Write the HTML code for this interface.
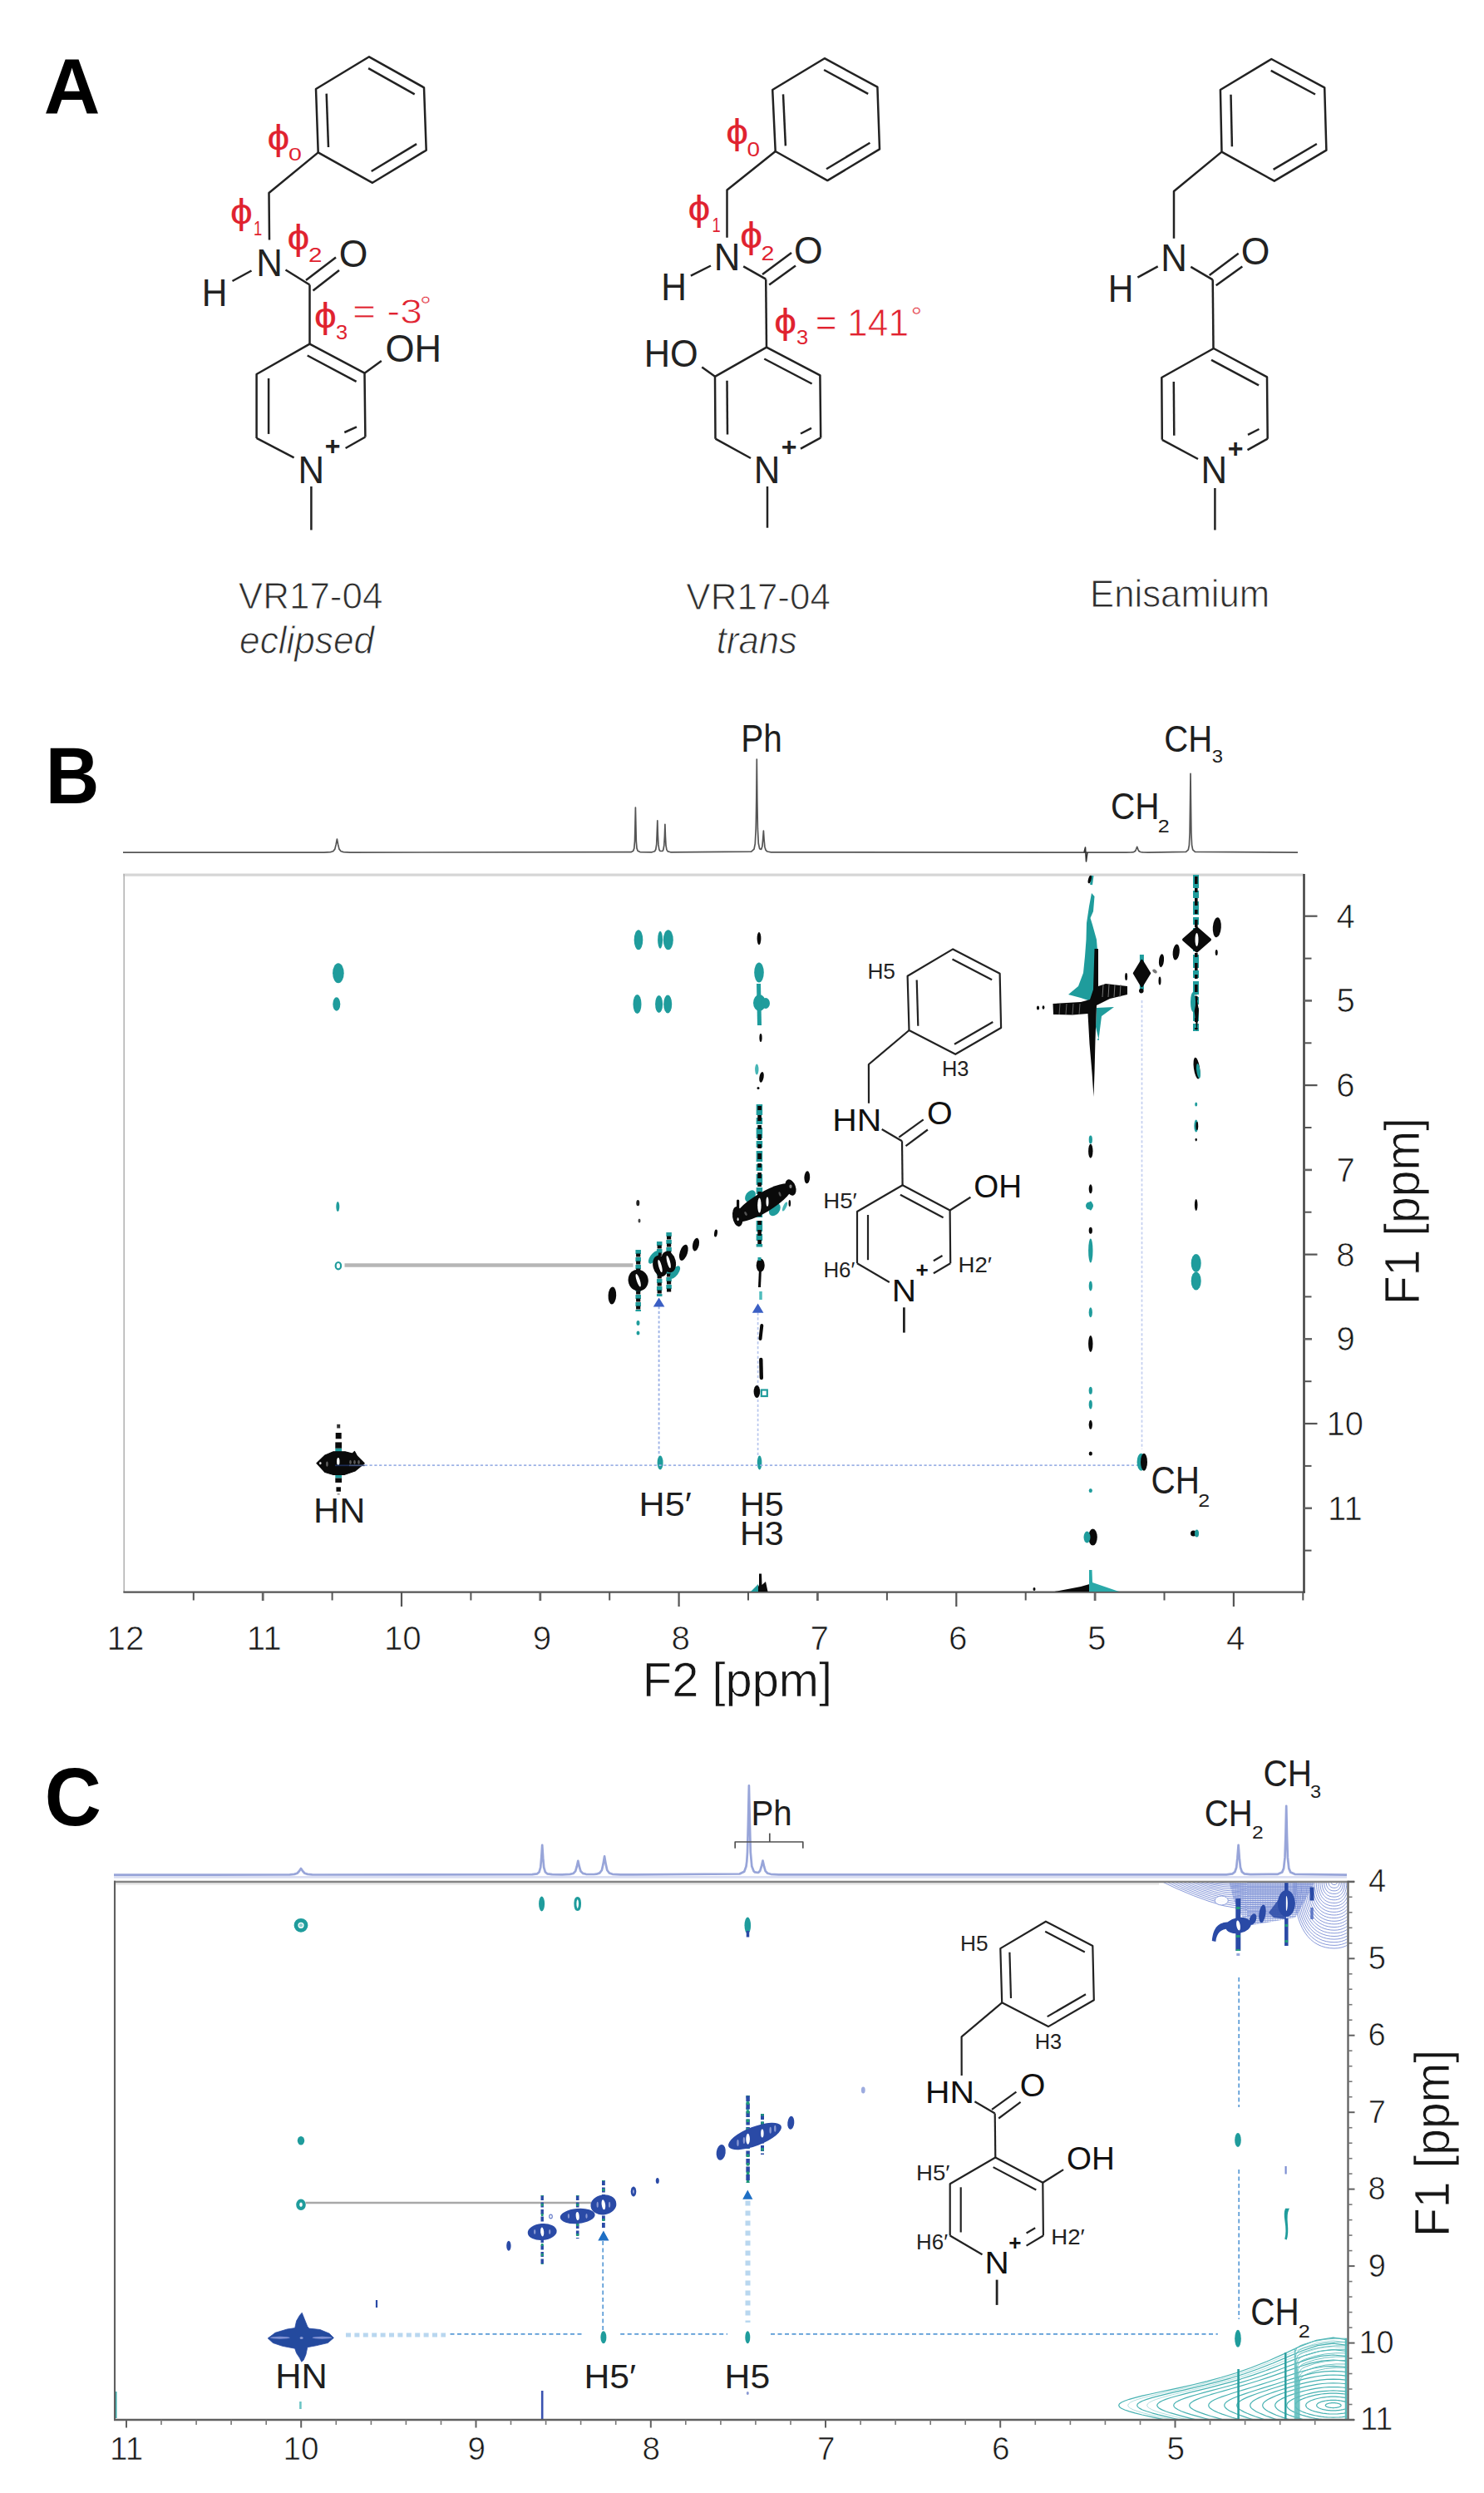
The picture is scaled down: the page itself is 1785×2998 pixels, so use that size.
<!DOCTYPE html>
<html lang="en"><head><meta charset="utf-8"><title>Figure</title>
<style>html,body{margin:0;padding:0;background:#fff;overflow:hidden}svg{display:block}text{font-family:"Liberation Sans", sans-serif}</style>
</head><body>
<svg width="1785" height="2998" viewBox="0 0 1785 2998">
<rect width="1785" height="2998" fill="#fff"/>
<g font-family='"Liberation Sans", sans-serif'>
<path d="M444 68.3 L510 105.3 L512.7 180.7 L448 219.8 L382.7 183.4 L380 107 Z" fill="none" stroke="#222" stroke-width="2.5" stroke-linejoin="round" />
<line x1="443.1" y1="82.1" x2="498.7" y2="113.3" stroke="#222" stroke-width="2.5" />
<line x1="501.1" y1="173.1" x2="446.7" y2="206" stroke="#222" stroke-width="2.5" />
<line x1="395" y1="177" x2="392.7" y2="112.6" stroke="#222" stroke-width="2.5" />
<path d="M382.7 183.4 L323.5 232 L324 288.5" fill="none" stroke="#222" stroke-width="2.5" stroke-linejoin="round" />
<line x1="279.5" y1="338" x2="302.5" y2="325.5" stroke="#222" stroke-width="2.5" />
<line x1="343.5" y1="324.5" x2="372.5" y2="342.5" stroke="#222" stroke-width="2.5" />
<line x1="368" y1="337" x2="404" y2="309.5" stroke="#222" stroke-width="2.5" />
<line x1="376.5" y1="349.5" x2="408" y2="325" stroke="#222" stroke-width="2.5" />
<line x1="372.5" y1="342.5" x2="372.5" y2="414" stroke="#222" stroke-width="2.5" />
<path d="M308.6 526.9 L308.6 450 L372.5 413.7 L438.5 448.7 L439.4 525.5" fill="none" stroke="#222" stroke-width="2.5" stroke-linejoin="round" />
<line x1="369.7" y1="427.5" x2="428.6" y2="458.8" stroke="#222" stroke-width="2.5" />
<line x1="323.1" y1="521.9" x2="323.1" y2="455" stroke="#222" stroke-width="2.5" />
<line x1="439.4" y1="525.5" x2="415.6" y2="539" stroke="#222" stroke-width="2.5" />
<line x1="414.3" y1="520" x2="429" y2="513.4" stroke="#222" stroke-width="2.5" />
<line x1="308.6" y1="526.9" x2="353.6" y2="550.4" stroke="#222" stroke-width="2.5" />
<line x1="438.5" y1="448.7" x2="458.8" y2="434" stroke="#222" stroke-width="2.5" />
<line x1="374.4" y1="585" x2="374.4" y2="637.4" stroke="#222" stroke-width="2.5" />
<path d="M991.8 70.2 L1055.4 104.7 L1058 179.4 L995.3 217.1 L932.7 182 L929.2 108 Z" fill="none" stroke="#222" stroke-width="2.5" stroke-linejoin="round" />
<line x1="991.1" y1="84" x2="1044.2" y2="112.8" stroke="#222" stroke-width="2.5" />
<line x1="1046.4" y1="171.8" x2="994" y2="203.3" stroke="#222" stroke-width="2.5" />
<line x1="944.9" y1="175.4" x2="942" y2="113.4" stroke="#222" stroke-width="2.5" />
<path d="M932.7 182 L874.5 228.4 L874.5 285.8" fill="none" stroke="#222" stroke-width="2.5" stroke-linejoin="round" />
<line x1="830.9" y1="331.7" x2="855" y2="319.5" stroke="#222" stroke-width="2.5" />
<line x1="894.2" y1="320.3" x2="921.2" y2="335.7" stroke="#222" stroke-width="2.5" />
<line x1="917" y1="330" x2="952" y2="304" stroke="#222" stroke-width="2.5" />
<line x1="925.2" y1="342.5" x2="957" y2="319.5" stroke="#222" stroke-width="2.5" />
<line x1="921.2" y1="335.7" x2="922" y2="418" stroke="#222" stroke-width="2.5" />
<path d="M860.5 527.7 L860 452.8 L922 417.7 L986.4 451.4 L987.2 526.4" fill="none" stroke="#222" stroke-width="2.5" stroke-linejoin="round" />
<line x1="919.3" y1="431.5" x2="976.6" y2="461.5" stroke="#222" stroke-width="2.5" />
<line x1="875" y1="522.6" x2="874.5" y2="457.7" stroke="#222" stroke-width="2.5" />
<line x1="987.2" y1="526.4" x2="963" y2="539.6" stroke="#222" stroke-width="2.5" />
<line x1="963" y1="521.5" x2="976" y2="514.8" stroke="#222" stroke-width="2.5" />
<line x1="860.5" y1="527.7" x2="903" y2="551" stroke="#222" stroke-width="2.5" />
<line x1="860" y1="452.8" x2="844.3" y2="441.5" stroke="#222" stroke-width="2.5" />
<line x1="923" y1="585" x2="923" y2="634.7" stroke="#222" stroke-width="2.5" />
<path d="M1529.3 71 L1593.2 105.3 L1595.4 180.7 L1532.8 217.7 L1469.5 182.6 L1467.9 108 Z" fill="none" stroke="#222" stroke-width="2.5" stroke-linejoin="round" />
<line x1="1528.7" y1="84.9" x2="1582" y2="113.5" stroke="#222" stroke-width="2.5" />
<line x1="1583.9" y1="173" x2="1531.6" y2="203.9" stroke="#222" stroke-width="2.5" />
<line x1="1481.9" y1="176.3" x2="1480.5" y2="113.7" stroke="#222" stroke-width="2.5" />
<path d="M1469.5 182.6 L1412 230 L1412 286.7" fill="none" stroke="#222" stroke-width="2.5" stroke-linejoin="round" />
<line x1="1368.4" y1="333.6" x2="1392.7" y2="320.4" stroke="#222" stroke-width="2.5" />
<line x1="1432.3" y1="320.9" x2="1458.7" y2="336.3" stroke="#222" stroke-width="2.5" />
<line x1="1454.7" y1="330.9" x2="1489.7" y2="304.7" stroke="#222" stroke-width="2.5" />
<line x1="1462.7" y1="343.3" x2="1494.3" y2="320.4" stroke="#222" stroke-width="2.5" />
<line x1="1458.7" y1="336.3" x2="1459.5" y2="419" stroke="#222" stroke-width="2.5" />
<path d="M1397.8 528.8 L1397.3 454 L1459.8 419 L1524 453.3 L1524.7 527.7" fill="none" stroke="#222" stroke-width="2.5" stroke-linejoin="round" />
<line x1="1457" y1="432.8" x2="1514.1" y2="463.3" stroke="#222" stroke-width="2.5" />
<line x1="1412.3" y1="523.7" x2="1411.8" y2="458.9" stroke="#222" stroke-width="2.5" />
<line x1="1524.7" y1="527.7" x2="1500.5" y2="541.2" stroke="#222" stroke-width="2.5" />
<line x1="1501" y1="522.9" x2="1514.5" y2="516" stroke="#222" stroke-width="2.5" />
<line x1="1397.8" y1="528.8" x2="1441" y2="552" stroke="#222" stroke-width="2.5" />
<line x1="1461.4" y1="587" x2="1461.4" y2="637.4" stroke="#222" stroke-width="2.5" />
<text transform="translate(52.8 137.3) scale(0.991 1)" font-size="94.6" fill="#000" font-weight="bold" >A</text>
<text transform="translate(308.2 331.6) scale(0.935 1)" font-size="46.8" fill="#222" >N</text>
<text transform="translate(242.7 368.1) scale(0.908 1)" font-size="46.8" fill="#222" >H</text>
<text transform="translate(407.7 321) scale(0.951 1)" font-size="46.8" fill="#222" >O</text>
<text transform="translate(463.5 435.3) scale(0.985 1)" font-size="45.8" fill="#222" >OH</text>
<text transform="translate(358.6 580.6) scale(0.935 1)" font-size="46.8" fill="#222" >N</text>
<text transform="translate(390.7 547) scale(0.3208 0.3176)" font-size="100" fill="#222" font-weight="bold" >+</text>
<text transform="translate(286.8 731.8) scale(0.976 1)" font-size="45.1" fill="#2e2e2e" stroke="#fff" stroke-width="0.9" >VR17-04</text>
<text transform="translate(288.1 786) scale(0.964 1)" font-size="45.8" fill="#2e2e2e" font-style="italic" stroke="#fff" stroke-width="0.9" >eclipsed</text>
<text transform="translate(858.8 324.9) scale(0.935 1)" font-size="46.8" fill="#222" >N</text>
<text transform="translate(795.3 361.1) scale(0.908 1)" font-size="46.8" fill="#222" >H</text>
<text transform="translate(955.1 317) scale(0.951 1)" font-size="46.8" fill="#222" >O</text>
<text transform="translate(774.8 440.6) scale(0.945 1)" font-size="45.8" fill="#222" >HO</text>
<text transform="translate(906.8 580.5) scale(0.935 1)" font-size="46.8" fill="#222" >N</text>
<text transform="translate(939.7 547.5) scale(0.3208 0.3176)" font-size="100" fill="#222" font-weight="bold" >+</text>
<text transform="translate(825.3 732.6) scale(0.976 1)" font-size="45.1" fill="#2e2e2e" stroke="#fff" stroke-width="0.9" >VR17-04</text>
<text transform="translate(861.8 786) scale(0.953 1)" font-size="45.8" fill="#2e2e2e" font-style="italic" stroke="#fff" stroke-width="0.9" >trans</text>
<text transform="translate(1396.2 326.1) scale(0.935 1)" font-size="46.8" fill="#222" >N</text>
<text transform="translate(1332.7 362.6) scale(0.908 1)" font-size="46.8" fill="#222" >H</text>
<text transform="translate(1492.7 317.5) scale(0.951 1)" font-size="46.8" fill="#222" >O</text>
<text transform="translate(1444.5 581.3) scale(0.935 1)" font-size="46.8" fill="#222" >N</text>
<text transform="translate(1476.7 550.1) scale(0.3208 0.3176)" font-size="100" fill="#222" font-weight="bold" >+</text>
<text transform="translate(1311 729.9) scale(0.941 1)" font-size="46.5" fill="#2e2e2e" stroke="#fff" stroke-width="0.9" >Enisamium</text>
<text transform="translate(321.4 180) scale(0.4792 0.4182)" font-size="100" fill="#e0222f" stroke="#e0222f" stroke-width="0.5">&#981;</text>
<text transform="translate(346.9 192.7) scale(0.2854 0.2282)" font-size="100" fill="#e0222f" >0</text>
<text transform="translate(276.9 269) scale(0.4792 0.4182)" font-size="100" fill="#e0222f" stroke="#e0222f" stroke-width="0.5">&#981;</text>
<text transform="translate(305.1 283) scale(0.1839 0.2319)" font-size="100" fill="#e0222f" >1</text>
<text transform="translate(345.6 300) scale(0.4792 0.4182)" font-size="100" fill="#e0222f" stroke="#e0222f" stroke-width="0.5">&#981;</text>
<text transform="translate(371 315) scale(0.2967 0.2357)" font-size="100" fill="#e0222f" >2</text>
<text transform="translate(378 394.2) scale(0.4792 0.4171)" font-size="100" fill="#e0222f" stroke="#e0222f" stroke-width="0.5">&#981;</text>
<text transform="translate(403.9 408.1) scale(0.2547 0.2366)" font-size="100" fill="#e0222f" >3</text>
<text transform="translate(424 389) scale(1.138 1)" font-size="42.2" fill="#e0222f" stroke="#fff" stroke-width="0.8" >= -3</text>
<text transform="translate(504.9 378) scale(0.3464 0.3214)" font-size="100" fill="#e0222f" stroke="#fff" stroke-width="1.5" >&#176;</text>
<text transform="translate(873.3 172.9) scale(0.4792 0.4321)" font-size="100" fill="#e0222f" stroke="#e0222f" stroke-width="0.5">&#981;</text>
<text transform="translate(898.5 188.3) scale(0.2792 0.2394)" font-size="100" fill="#e0222f" >0</text>
<text transform="translate(827.6 264.6) scale(0.4792 0.4321)" font-size="100" fill="#e0222f" stroke="#e0222f" stroke-width="0.5">&#981;</text>
<text transform="translate(856.6 279) scale(0.1839 0.2319)" font-size="100" fill="#e0222f" >1</text>
<text transform="translate(890.2 298) scale(0.4792 0.4471)" font-size="100" fill="#e0222f" stroke="#e0222f" stroke-width="0.5">&#981;</text>
<text transform="translate(915.6 312.5) scale(0.2857 0.2357)" font-size="100" fill="#e0222f" >2</text>
<text transform="translate(931.2 400.7) scale(0.4792 0.4321)" font-size="100" fill="#e0222f" stroke="#e0222f" stroke-width="0.5">&#981;</text>
<text transform="translate(957.9 414) scale(0.2547 0.2324)" font-size="100" fill="#e0222f" >3</text>
<text transform="translate(980.8 404.4) scale(0.942 1)" font-size="47.1" fill="#e0222f" stroke="#fff" stroke-width="0.8" >= 141</text>
<text transform="translate(1095.7 391) scale(0.3321 0.3214)" font-size="100" fill="#e0222f" stroke="#fff" stroke-width="1.5" >&#176;</text>
</g>
<g>
<text transform="translate(54.8 966.4) scale(0.936 1)" font-size="95.6" fill="#000" font-weight="bold" >B</text>
<path d="M148 1025.2 L389.8 1025.1 L397.6 1024.6 L400.7 1023.7 L402.8 1021.1 L404.1 1015.9 L405.4 1009 L406.7 1015.9 L408 1021.1 L410.1 1023.7 L413.2 1024.6 L421 1025.1 L759 1024.7 L761.7 1023.2 L762.8 1020.1 L763.5 1011.6 L763.9 994.2 L764.4 971 L764.9 994.2 L765.3 1011.6 L766 1020.1 L767.1 1023.2 L769.8 1024.6 L784.2 1024.8 L787.5 1023.7 L788.8 1021.5 L789.7 1015.5 L790.2 1003.2 L790.8 986.8 L791.3 1003.2 L791.9 1015.4 L792.8 1021.3 L793.3 1022.6 L794.1 1023.4 L796.6 1023.5 L797.4 1022.8 L797.9 1021.7 L798.8 1016.5 L799.4 1005.8 L799.9 991.4 L800.4 1005.8 L801 1016.6 L801.9 1021.9 L803.2 1023.9 L806.5 1024.8 L903.7 1024.1 L907 1021.1 L908.3 1014.6 L909.2 997 L909.4 987.8 L909.8 961.1 L910.3 913.1 L910.8 961 L911.4 996.9 L912.3 1014.3 L913.6 1020.4 L913.9 1020.9 L915.7 1021.3 L916.9 1017.8 L917.6 1009.9 L918.4 999.1 L919.1 1010.1 L919.9 1018.4 L921.1 1022.4 L922.9 1024 L927.4 1024.8 L1354.5 1025.1 L1361.1 1024.9 L1363.7 1024.6 L1365.5 1023.5 L1366.6 1021.3 L1367.7 1018.3 L1368.8 1021.3 L1369.9 1023.5 L1371.7 1024.5 L1374.3 1024.9 L1380.9 1025.1 L1426.6 1024.3 L1429.3 1021.8 L1430.4 1016.3 L1431.1 1001.5 L1431.5 971 L1432 930.3 L1432.5 971 L1432.9 1001.5 L1433.6 1016.3 L1434.7 1021.8 L1437.4 1024.3 L1561 1025.2" fill="none" stroke="#555" stroke-width="1.7" stroke-linejoin="round" />
<path d="M1304 1025 L1305.5 1019 L1306.5 1036 L1308 1025" fill="none" stroke="#333" stroke-width="1.6" stroke-linejoin="round" />
<text transform="translate(891.2 903.8) scale(0.886 1)" font-size="45.8" fill="#1e1e1e" >Ph</text>
<text transform="translate(1400.3 904) scale(0.889 1)" font-size="45.1" fill="#1e1e1e" >CH</text>
<text transform="translate(1457.7 917.1) scale(0.2379 0.2225)" font-size="100" fill="#1e1e1e" >3</text>
<text transform="translate(1336 985) scale(0.898 1)" font-size="45.1" fill="#1e1e1e" >CH</text>
<text transform="translate(1392.7 1001) scale(0.2505 0.2214)" font-size="100" fill="#1e1e1e" >2</text>
<line x1="148" y1="1052.2" x2="1568.5" y2="1052.2" stroke="#d6d6d6" stroke-width="3.2" />
<line x1="149.2" y1="1051" x2="149.2" y2="1915" stroke="#b4b4b4" stroke-width="1.6" />
<line x1="148.4" y1="1914.7" x2="1569.7" y2="1914.7" stroke="#555" stroke-width="2.2" />
<line x1="1568.5" y1="1051" x2="1568.5" y2="1915.8" stroke="#444" stroke-width="2.6" />
<line x1="1568.5" y1="1101.7" x2="1584.5" y2="1101.7" stroke="#555" stroke-width="2.2" />
<text transform="translate(1607.6 1115.7) scale(1.000 1)" font-size="40.1" fill="#1a1a1a" stroke="#fff" stroke-width="0.7" >4</text>
<line x1="1568.5" y1="1152.6" x2="1577.5" y2="1152.6" stroke="#555" stroke-width="2" />
<line x1="1568.5" y1="1203.4" x2="1578" y2="1203.4" stroke="#666" stroke-width="2.6" />
<text transform="translate(1607.4 1217.4) scale(1.000 1)" font-size="40.1" fill="#1a1a1a" stroke="#fff" stroke-width="0.7" >5</text>
<line x1="1568.5" y1="1254.3" x2="1577.5" y2="1254.3" stroke="#555" stroke-width="2" />
<line x1="1568.5" y1="1305.1" x2="1584.5" y2="1305.1" stroke="#555" stroke-width="2.2" />
<text transform="translate(1607.2 1319.1) scale(1.000 1)" font-size="40.1" fill="#1a1a1a" stroke="#fff" stroke-width="0.7" >6</text>
<line x1="1568.5" y1="1356" x2="1577.5" y2="1356" stroke="#555" stroke-width="2" />
<line x1="1568.5" y1="1406.9" x2="1578" y2="1406.9" stroke="#666" stroke-width="2.6" />
<text transform="translate(1607.4 1420.9) scale(1.000 1)" font-size="40.1" fill="#1a1a1a" stroke="#fff" stroke-width="0.7" >7</text>
<line x1="1568.5" y1="1457.7" x2="1577.5" y2="1457.7" stroke="#555" stroke-width="2" />
<line x1="1568.5" y1="1508.6" x2="1584.5" y2="1508.6" stroke="#555" stroke-width="2.2" />
<text transform="translate(1607.3 1522.6) scale(1.000 1)" font-size="40.1" fill="#1a1a1a" stroke="#fff" stroke-width="0.7" >8</text>
<line x1="1568.5" y1="1559.4" x2="1577.5" y2="1559.4" stroke="#555" stroke-width="2" />
<line x1="1568.5" y1="1610.3" x2="1578" y2="1610.3" stroke="#666" stroke-width="2.6" />
<text transform="translate(1607.4 1624.3) scale(1.000 1)" font-size="40.1" fill="#1a1a1a" stroke="#fff" stroke-width="0.7" >9</text>
<line x1="1568.5" y1="1661.2" x2="1577.5" y2="1661.2" stroke="#555" stroke-width="2" />
<line x1="1568.5" y1="1712" x2="1584.5" y2="1712" stroke="#555" stroke-width="2.2" />
<text transform="translate(1595.4 1726) scale(1.000 1)" font-size="40.1" fill="#1a1a1a" stroke="#fff" stroke-width="0.7" >10</text>
<line x1="1568.5" y1="1762.9" x2="1577.5" y2="1762.9" stroke="#555" stroke-width="2" />
<line x1="1568.5" y1="1813.7" x2="1578" y2="1813.7" stroke="#666" stroke-width="2.6" />
<text transform="translate(1597.1 1827.7) scale(1.000 1)" font-size="40.1" fill="#1a1a1a" stroke="#fff" stroke-width="0.7" >11</text>
<line x1="1568.5" y1="1864.6" x2="1577.5" y2="1864.6" stroke="#555" stroke-width="2" />
<line x1="1483.9" y1="1914.7" x2="1483.9" y2="1932" stroke="#555" stroke-width="2.2" />
<text transform="translate(1475.1 1983.5) scale(1.000 1)" font-size="40.4" fill="#1a1a1a" stroke="#fff" stroke-width="0.7" >4</text>
<line x1="1567.3" y1="1914.7" x2="1567.3" y2="1924.5" stroke="#555" stroke-width="2" />
<line x1="1317.1" y1="1914.7" x2="1317.1" y2="1925" stroke="#666" stroke-width="2.8" />
<text transform="translate(1308.1 1983.5) scale(1.000 1)" font-size="40.4" fill="#1a1a1a" stroke="#fff" stroke-width="0.7" >5</text>
<line x1="1400.5" y1="1914.7" x2="1400.5" y2="1924.5" stroke="#555" stroke-width="2" />
<line x1="1150.3" y1="1914.7" x2="1150.3" y2="1932" stroke="#555" stroke-width="2.2" />
<text transform="translate(1141 1983.5) scale(1.000 1)" font-size="40.4" fill="#1a1a1a" stroke="#fff" stroke-width="0.7" >6</text>
<line x1="1233.7" y1="1914.7" x2="1233.7" y2="1924.5" stroke="#555" stroke-width="2" />
<line x1="983.4" y1="1914.7" x2="983.4" y2="1925" stroke="#666" stroke-width="2.8" />
<text transform="translate(974.4 1983.5) scale(1.000 1)" font-size="40.4" fill="#1a1a1a" stroke="#fff" stroke-width="0.7" >7</text>
<line x1="1066.9" y1="1914.7" x2="1066.9" y2="1924.5" stroke="#555" stroke-width="2" />
<line x1="816.6" y1="1914.7" x2="816.6" y2="1932" stroke="#555" stroke-width="2.2" />
<text transform="translate(807.5 1983.5) scale(1.000 1)" font-size="40.4" fill="#1a1a1a" stroke="#fff" stroke-width="0.7" >8</text>
<line x1="900" y1="1914.7" x2="900" y2="1924.5" stroke="#555" stroke-width="2" />
<line x1="649.8" y1="1914.7" x2="649.8" y2="1925" stroke="#666" stroke-width="2.8" />
<text transform="translate(640.8 1983.5) scale(1.000 1)" font-size="40.4" fill="#1a1a1a" stroke="#fff" stroke-width="0.7" >9</text>
<line x1="733.2" y1="1914.7" x2="733.2" y2="1924.5" stroke="#555" stroke-width="2" />
<line x1="483" y1="1914.7" x2="483" y2="1932" stroke="#555" stroke-width="2.2" />
<text transform="translate(461.9 1983.5) scale(1.000 1)" font-size="40.4" fill="#1a1a1a" stroke="#fff" stroke-width="0.7" >10</text>
<line x1="566.4" y1="1914.7" x2="566.4" y2="1924.5" stroke="#555" stroke-width="2" />
<line x1="316.2" y1="1914.7" x2="316.2" y2="1925" stroke="#666" stroke-width="2.8" />
<text transform="translate(296.8 1983.5) scale(1.000 1)" font-size="40.4" fill="#1a1a1a" stroke="#fff" stroke-width="0.7" >11</text>
<line x1="399.6" y1="1914.7" x2="399.6" y2="1924.5" stroke="#555" stroke-width="2" />
<text transform="translate(128.6 1983.5) scale(1.000 1)" font-size="40.4" fill="#1a1a1a" stroke="#fff" stroke-width="0.7" >12</text>
<line x1="232.8" y1="1914.7" x2="232.8" y2="1924.5" stroke="#555" stroke-width="2" />
<text transform="translate(772.8 2039.6) scale(1.010 1)" font-size="57.3" fill="#161616" stroke="#fff" stroke-width="0.7" >F2 [ppm]</text>
<g transform="translate(1706.5 1564.7) rotate(-90)">
<text transform="translate(-4.6 0) scale(0.958 1)" font-size="59.6" fill="#161616" stroke="#fff" stroke-width="0.7" >F1 [ppm]</text>
</g>
<ellipse cx="406.9" cy="1170.2" rx="6.8" ry="12" fill="#1f9c9c" />
<ellipse cx="404.8" cy="1207.5" rx="4.5" ry="8.3" fill="#1f9c9c" />
<ellipse cx="768" cy="1130.2" rx="5.3" ry="12" fill="#1f9c9c" />
<ellipse cx="794.1" cy="1130.2" rx="3" ry="10.5" fill="#1f9c9c" />
<ellipse cx="803.8" cy="1130.2" rx="6" ry="12" fill="#1f9c9c" />
<ellipse cx="766.5" cy="1207.5" rx="5" ry="11.5" fill="#1f9c9c" />
<ellipse cx="792.6" cy="1207.5" rx="4.5" ry="10.5" fill="#1f9c9c" />
<ellipse cx="803.2" cy="1207.5" rx="5" ry="11" fill="#1f9c9c" />
<ellipse cx="913" cy="1169.6" rx="5.8" ry="12" fill="#1f9c9c" />
<ellipse cx="406.3" cy="1451" rx="2" ry="6" fill="#1f9c9c" />
<ellipse cx="794.1" cy="1759" rx="3.5" ry="8.5" fill="#1f9c9c" />
<ellipse cx="913.6" cy="1759" rx="2.8" ry="8.5" fill="#1f9c9c" />
<ellipse cx="1438.7" cy="1519" rx="6" ry="11" fill="#1f9c9c" />
<ellipse cx="1438.7" cy="1540.4" rx="6" ry="11" fill="#1f9c9c" />
<ellipse cx="767.5" cy="1591" rx="2" ry="3" fill="#1f9c9c" />
<ellipse cx="767.5" cy="1603" rx="2" ry="2.5" fill="#1f9c9c" />
<ellipse cx="1438.7" cy="1328" rx="1.5" ry="2.5" fill="#1f9c9c" />
<ellipse cx="406.9" cy="1522.2" rx="3.2" ry="4.2" fill="#fff" stroke="#1f9c9c" stroke-width="2.2" />
<ellipse cx="913" cy="1128.6" rx="2.4" ry="7.5" fill="#0a0a0a" />
<ellipse cx="913.5" cy="1206" rx="7.5" ry="10" fill="#1f9c9c" />
<ellipse cx="921" cy="1206.5" rx="5" ry="6.5" fill="#1f9c9c" />
<line x1="912.5" y1="1183" x2="913.5" y2="1233" stroke="#1f9c9c" stroke-width="5" />
<ellipse cx="915" cy="1248" rx="1.6" ry="5" fill="#0a0a0a" />
<ellipse cx="910.3" cy="1286" rx="2.2" ry="6.5" fill="#45b5b5" />
<ellipse cx="916" cy="1295.4" rx="2.6" ry="6.5" fill="#0a0a0a" transform="rotate(10 916 1295.4)" />
<ellipse cx="912" cy="1308.5" rx="1.5" ry="1.5" fill="#0a0a0a" />
<line x1="414.5" y1="1521.5" x2="761.5" y2="1521.5" stroke="#b6b6b6" stroke-width="4.6" />
<line x1="438.7" y1="1762.2" x2="1371.4" y2="1762.2" stroke="#9db2e6" stroke-width="1.7" stroke-dasharray="3.2 2.6"/>
<line x1="792.6" y1="1571" x2="792.6" y2="1751" stroke="#9db2e6" stroke-width="1.9" stroke-dasharray="3.2 2.6"/>
<line x1="911.6" y1="1578.5" x2="911.6" y2="1751" stroke="#b7c6ee" stroke-width="1.7" stroke-dasharray="3.2 2.6"/>
<line x1="1373.5" y1="1203" x2="1373.5" y2="1743" stroke="#c3cff0" stroke-width="1.7" stroke-dasharray="3.2 2.6"/>
<path d="M792.6 1560.5 L785.8 1571.5 L799.4 1571.5 Z M911.6 1567.5 L904.8 1578.7 L918.4 1578.7 Z" fill="#3b5fc4"/>
<line x1="407.2" y1="1712.8" x2="407.2" y2="1717.5" stroke="#333" stroke-width="4" />
<line x1="407.2" y1="1723" x2="407.2" y2="1730.3" stroke="#0a0a0a" stroke-width="7" />
<line x1="407.2" y1="1734.4" x2="407.2" y2="1741.8" stroke="#0a0a0a" stroke-width="7.8" />
<line x1="407.2" y1="1741.8" x2="407.2" y2="1746.5" stroke="#1f9c9c" stroke-width="7.8" />
<line x1="407.2" y1="1772.4" x2="407.2" y2="1777.5" stroke="#1f9c9c" stroke-width="7.8" />
<line x1="407.2" y1="1777.5" x2="407.2" y2="1782.9" stroke="#0a0a0a" stroke-width="7.8" />
<line x1="407.2" y1="1788.3" x2="407.2" y2="1793.7" stroke="#0a0a0a" stroke-width="5.5" />
<line x1="407.2" y1="1796" x2="407.2" y2="1797.5" stroke="#888" stroke-width="3" />
<path d="M380.9 1759.7 L391 1750 L401 1745.8 L415 1745.8 L424 1748 L426.5 1745.5 L429.5 1751 L438.2 1759.7 L427 1769 L414 1773.5 L401 1773.5 L391 1770.5 L386 1765 Z" fill="#0a0a0a" stroke="#0a0a0a" stroke-width="1.2" stroke-linejoin="round" />
<ellipse cx="406.8" cy="1757.6" rx="1.7" ry="4.6" fill="#fff" />
<ellipse cx="385.3" cy="1759.6" rx="1.3" ry="1.6" fill="#ddd" />
<ellipse cx="393.4" cy="1760.6" rx="1.2" ry="3.2" fill="#666" />
<ellipse cx="421.5" cy="1758.3" rx="1.3" ry="2.6" fill="#5a5a5a" />
<ellipse cx="426.5" cy="1758.3" rx="1.3" ry="2.6" fill="#5a5a5a" />
<ellipse cx="431.5" cy="1758.3" rx="1.3" ry="2.6" fill="#5a5a5a" />
<line x1="403" y1="1762.3" x2="420" y2="1762.3" stroke="#1c2c55" stroke-width="1.7" />
<line x1="420" y1="1762.3" x2="438.7" y2="1762.3" stroke="#44557f" stroke-width="1.7" />
<line x1="767.7" y1="1503" x2="767.7" y2="1577" stroke="#1f9c9c" stroke-width="6.5" stroke-dasharray="5 4"/>
<line x1="767.7" y1="1503" x2="767.7" y2="1577" stroke="#0a0a0a" stroke-width="5.2" stroke-dasharray="4 5" stroke-dashoffset="4.5"/>
<line x1="793.2" y1="1493" x2="793.2" y2="1559" stroke="#1f9c9c" stroke-width="6.5" stroke-dasharray="5 4"/>
<line x1="793.2" y1="1493" x2="793.2" y2="1559" stroke="#0a0a0a" stroke-width="5.2" stroke-dasharray="4 5" stroke-dashoffset="4.5"/>
<line x1="804.6" y1="1482" x2="804.6" y2="1554" stroke="#1f9c9c" stroke-width="6.5" stroke-dasharray="5 4"/>
<line x1="804.6" y1="1482" x2="804.6" y2="1554" stroke="#0a0a0a" stroke-width="5.2" stroke-dasharray="4 5" stroke-dashoffset="4.5"/>
<ellipse cx="786" cy="1512" rx="4" ry="9" fill="#1f9c9c" transform="rotate(35 786 1512)" />
<ellipse cx="812" cy="1530" rx="4" ry="9" fill="#1f9c9c" transform="rotate(35 812 1530)" />
<ellipse cx="767.7" cy="1539.7" rx="12" ry="13" fill="#0a0a0a" transform="rotate(-18 767.7 1539.7)" />
<ellipse cx="767.7" cy="1539.7" rx="2" ry="8.1" fill="#fff" transform="rotate(-18 767.7 1539.7)" />
<ellipse cx="794" cy="1522.5" rx="8.5" ry="13" fill="#0a0a0a" transform="rotate(-15 794 1522.5)" />
<ellipse cx="794" cy="1522.5" rx="1.8" ry="7.8" fill="#fff" transform="rotate(-15 794 1522.5)" />
<ellipse cx="804.2" cy="1517.5" rx="8.5" ry="13" fill="#0a0a0a" transform="rotate(-15 804.2 1517.5)" />
<ellipse cx="804.2" cy="1517.5" rx="1.8" ry="7.8" fill="#fff" transform="rotate(-15 804.2 1517.5)" />
<ellipse cx="822.3" cy="1506.3" rx="4.6" ry="10" fill="#0a0a0a" transform="rotate(18 822.3 1506.3)" />
<ellipse cx="837" cy="1496.6" rx="3.8" ry="8" fill="#0a0a0a" transform="rotate(12 837 1496.6)" />
<ellipse cx="861" cy="1483" rx="1.9" ry="4.5" fill="#0a0a0a" transform="rotate(8 861 1483)" />
<ellipse cx="736.4" cy="1557.9" rx="4.8" ry="10.5" fill="#0a0a0a" transform="rotate(3 736.4 1557.9)" />
<ellipse cx="767.3" cy="1446.7" rx="2" ry="3.6" fill="#222" />
<ellipse cx="769" cy="1468" rx="1.5" ry="2.6" fill="#444" />
<line x1="913.4" y1="1328" x2="913.4" y2="1499.5" stroke="#1f9c9c" stroke-width="7.5" stroke-dasharray="13 3 8 4"/>
<line x1="913.6" y1="1330" x2="913.6" y2="1499.5" stroke="#0a0a0a" stroke-width="4.6" stroke-dasharray="5 6 7 5"/>
<ellipse cx="902.5" cy="1438.5" rx="5.5" ry="8" fill="#1f9c9c" transform="rotate(35 902.5 1438.5)" />
<ellipse cx="931.8" cy="1454.5" rx="6" ry="8.5" fill="#1f9c9c" transform="rotate(35 931.8 1454.5)" />
<ellipse cx="944" cy="1451" rx="2" ry="6" fill="#49b6b6" transform="rotate(25 944 1451)" />
<ellipse cx="918" cy="1446.3" rx="40" ry="11.8" fill="#0a0a0a" transform="rotate(-31 918 1446.3)" />
<ellipse cx="887.3" cy="1463" rx="6.2" ry="12" fill="#0a0a0a" transform="rotate(-8 887.3 1463)" />
<line x1="887.6" y1="1444" x2="887.6" y2="1462" stroke="#0a0a0a" stroke-width="3.2" stroke-linecap="round"/>
<ellipse cx="951" cy="1428" rx="6" ry="10" fill="#0a0a0a" transform="rotate(-20 951 1428)" />
<ellipse cx="913.4" cy="1449.6" rx="2.2" ry="9" fill="#fff" />
<ellipse cx="923" cy="1445.2" rx="1.5" ry="5.6" fill="#fff" />
<ellipse cx="887.6" cy="1466.2" rx="1.1" ry="2" fill="#ddd" />
<ellipse cx="951" cy="1426.8" rx="1.6" ry="2.2" fill="#888" />
<ellipse cx="897" cy="1459.5" rx="1.3" ry="2.6" fill="#555" transform="rotate(-30 897 1459.5)" />
<ellipse cx="938" cy="1436" rx="1.2" ry="3" fill="#555" transform="rotate(-20 938 1436)" />
<ellipse cx="970.8" cy="1415.8" rx="3.4" ry="7.5" fill="#0a0a0a" transform="rotate(3 970.8 1415.8)" />
<ellipse cx="949.8" cy="1447" rx="1.3" ry="4" fill="#0a0a0a" />
<ellipse cx="914.7" cy="1521.5" rx="5" ry="8" fill="#0a0a0a" />
<line x1="914.5" y1="1525" x2="913.5" y2="1548" stroke="#0a0a0a" stroke-width="3" />
<line x1="913.5" y1="1512" x2="913.5" y2="1516" stroke="#1f9c9c" stroke-width="4" />
<line x1="915" y1="1553" x2="915" y2="1563" stroke="#4fbcbc" stroke-width="3.5" />
<line x1="916.3" y1="1594" x2="914.5" y2="1610" stroke="#0a0a0a" stroke-width="4" stroke-linecap="round"/>
<line x1="915.3" y1="1635" x2="915.8" y2="1657" stroke="#0a0a0a" stroke-width="4.4" stroke-linecap="round"/>
<ellipse cx="910.4" cy="1673.5" rx="3.8" ry="7.5" fill="#0a0a0a" />
<rect x="915.8" y="1671.5" width="7" height="7.5" fill="#fff" stroke="#1f9c9c" stroke-width="2.2"/>
<path d="M913 1892.5 L916 1892.5 L916.5 1906 L921 1902 L923.5 1914 L909 1914 L913 1906 Z" fill="#0a0a0a"/>
<path d="M903 1914 L912 1905 L912 1914 Z" fill="#1f9c9c"/>
<path d="M1313 1074 L1316.5 1078 L1315 1096 L1311.5 1104 L1314 1112 L1319 1130 L1320.5 1150 L1316 1168 L1317 1190 L1312 1204 L1300 1200 L1285 1196 L1297 1186 L1303 1170 L1305 1150 L1306.5 1130 L1307 1110 L1310 1090 Z" fill="#1f9c9c"/>
<line x1="1314" y1="1053" x2="1312.5" y2="1064" stroke="#1f9c9c" stroke-width="3" />
<path d="M1319 1212 L1340 1211 L1325 1222 L1321.5 1250 L1318 1235 Z" fill="#1f9c9c"/>
<path d="M1316.5 1141 L1321 1141 L1321 1186 L1330 1183 L1356 1186 L1356 1196 L1335 1201 L1319 1209 L1317.5 1250 L1316.5 1290 L1315.5 1319 L1313.5 1290 L1310.5 1255 L1308.5 1219 L1290 1220.5 L1267 1220 L1266.5 1207 L1300 1205 L1311 1202 L1315 1190 Z" fill="#0a0a0a"/>
<line x1="1327" y1="1184" x2="1326" y2="1199" stroke="#777" stroke-width="1" />
<line x1="1334" y1="1184" x2="1333" y2="1199" stroke="#777" stroke-width="1" />
<line x1="1341" y1="1184" x2="1340" y2="1199" stroke="#777" stroke-width="1" />
<line x1="1348" y1="1184" x2="1347" y2="1199" stroke="#777" stroke-width="1" />
<line x1="1275" y1="1207" x2="1274" y2="1220" stroke="#666" stroke-width="1" />
<line x1="1283" y1="1207" x2="1282" y2="1220" stroke="#666" stroke-width="1" />
<line x1="1291" y1="1207" x2="1290" y2="1220" stroke="#666" stroke-width="1" />
<line x1="1299" y1="1207" x2="1298" y2="1220" stroke="#666" stroke-width="1" />
<ellipse cx="1248.5" cy="1212" rx="1.6" ry="2.6" fill="#0a0a0a" />
<ellipse cx="1255" cy="1211.5" rx="1.4" ry="2.2" fill="#0a0a0a" />
<ellipse cx="1310.8" cy="1057.5" rx="1.8" ry="5" fill="#0a0a0a" transform="rotate(15 1310.8 1057.5)" />
<ellipse cx="1321" cy="1250" rx="1" ry="1" fill="#1f9c9c" />
<ellipse cx="1311.8" cy="1370.6" rx="2.1" ry="5" fill="#1f9c9c" />
<ellipse cx="1311.8" cy="1384.3" rx="2.7" ry="8.5" fill="#0a0a0a" />
<ellipse cx="1311.8" cy="1429.8" rx="2.1" ry="5.5" fill="#0a0a0a" />
<ellipse cx="1311.8" cy="1450" rx="2.1" ry="5.5" fill="#1f9c9c" />
<ellipse cx="1311.8" cy="1479.8" rx="2.1" ry="4" fill="#0a0a0a" />
<ellipse cx="1311.8" cy="1504" rx="2.7" ry="14.5" fill="#1f9c9c" />
<ellipse cx="1311.8" cy="1546.5" rx="2.1" ry="6" fill="#1f9c9c" />
<ellipse cx="1311.8" cy="1578.3" rx="2.1" ry="6" fill="#1f9c9c" />
<ellipse cx="1311.8" cy="1616" rx="2.7" ry="10" fill="#0a0a0a" />
<ellipse cx="1311.8" cy="1672.3" rx="2.1" ry="4.5" fill="#1f9c9c" />
<ellipse cx="1311.8" cy="1689" rx="2.1" ry="5.5" fill="#1f9c9c" />
<ellipse cx="1311.8" cy="1713.3" rx="2.1" ry="5.5" fill="#0a0a0a" />
<ellipse cx="1311.8" cy="1748" rx="2.1" ry="2.5" fill="#0a0a0a" />
<ellipse cx="1311.8" cy="1792.5" rx="2.1" ry="2.5" fill="#1f9c9c" />
<ellipse cx="1310.5" cy="1450" rx="4.5" ry="4.5" fill="#1f9c9c" />
<ellipse cx="1314.5" cy="1848.6" rx="5.3" ry="10" fill="#0a0a0a" />
<ellipse cx="1307.5" cy="1848.6" rx="4" ry="7" fill="#1f9c9c" />
<path d="M1268.4 1914 L1300 1908 L1314 1904 L1314 1914 Z" fill="#0a0a0a"/>
<path d="M1310 1888 L1313.5 1888 L1314 1903 L1346 1914 L1310 1914 Z" fill="#2aa9a9"/>
<ellipse cx="1244" cy="1911" rx="1.5" ry="2" fill="#0a0a0a" />
<line x1="1438.5" y1="1052" x2="1438.5" y2="1240" stroke="#1f9c9c" stroke-width="7" stroke-dasharray="16 3 9 4"/>
<line x1="1438.8" y1="1054" x2="1438.8" y2="1238" stroke="#0a0a0a" stroke-width="3.6" stroke-dasharray="9 5 5 7"/>
<path d="M1438.5 1195 L1442 1215 L1439.5 1240 L1436.5 1215 Z" fill="#0a0a0a"/>
<ellipse cx="1435" cy="1205" rx="3" ry="12" fill="#1f9c9c" />
<path d="M1423.5 1130 L1439.5 1116 L1455.5 1130 L1439.5 1144 Z" fill="#0a0a0a" stroke="#0a0a0a" stroke-width="3" stroke-linejoin="round"/>
<ellipse cx="1439.5" cy="1130" rx="2" ry="8" fill="#fff" />
<ellipse cx="1463.8" cy="1115.2" rx="5" ry="12" fill="#0a0a0a" transform="rotate(4 1463.8 1115.2)" />
<ellipse cx="1463.2" cy="1145.5" rx="1.5" ry="3.5" fill="#0a0a0a" />
<ellipse cx="1414.7" cy="1145" rx="4" ry="9.5" fill="#0a0a0a" transform="rotate(6 1414.7 1145)" />
<ellipse cx="1397" cy="1155.2" rx="3" ry="8" fill="#0a0a0a" transform="rotate(6 1397 1155.2)" />
<ellipse cx="1395" cy="1179.5" rx="1.5" ry="5" fill="#0a0a0a" />
<ellipse cx="1354.6" cy="1174.4" rx="1.5" ry="4.5" fill="#0a0a0a" />
<line x1="1373.4" y1="1148" x2="1373.4" y2="1190" stroke="#1f9c9c" stroke-width="5" />
<path d="M1364 1170.4 L1373.4 1155 L1383 1170.4 L1373.4 1186 Z" fill="#0a0a0a" stroke="#0a0a0a" stroke-width="2.5" stroke-linejoin="round"/>
<ellipse cx="1372.8" cy="1191.6" rx="2.8" ry="2.8" fill="#0a0a0a" />
<ellipse cx="1389" cy="1168" rx="3" ry="2" fill="#777" transform="rotate(40 1389 1168)" />
<ellipse cx="1439.5" cy="1284.6" rx="3.6" ry="13" fill="#0a0a0a" transform="rotate(-8 1439.5 1284.6)" />
<ellipse cx="1441.5" cy="1288" rx="2.2" ry="9" fill="#1f9c9c" transform="rotate(-8 1441.5 1288)" />
<ellipse cx="1438.7" cy="1354" rx="2.4" ry="7.5" fill="#1f9c9c" />
<ellipse cx="1439.8" cy="1354" rx="1.4" ry="5" fill="#0a0a0a" />
<ellipse cx="1438.7" cy="1370.6" rx="1.2" ry="1.8" fill="#0a0a0a" />
<ellipse cx="1438.7" cy="1449" rx="1.8" ry="7" fill="#0a0a0a" />
<ellipse cx="1372.6" cy="1758.2" rx="5" ry="10.5" fill="#1f9c9c" />
<ellipse cx="1376" cy="1758.2" rx="4" ry="10.5" fill="#0a0a0a" />
<ellipse cx="1435.5" cy="1844" rx="3.5" ry="3.5" fill="#0a0a0a" />
<ellipse cx="1439.5" cy="1844" rx="2.5" ry="4.5" fill="#1f9c9c" />
<text transform="translate(377.1 1831) scale(1.009 1)" font-size="42.7" fill="#1e1e1e" >HN</text>
<text transform="translate(768.6 1822.8) scale(1.043 1)" font-size="41.3" fill="#1e1e1e" >H5&#8242;</text>
<text transform="translate(890 1822.8) scale(1.000 1)" font-size="41.3" fill="#1e1e1e" >H5</text>
<text transform="translate(890 1857.7) scale(1.000 1)" font-size="41.3" fill="#1e1e1e" >H3</text>
<text transform="translate(1384.5 1796.4) scale(0.894 1)" font-size="45.3" fill="#1e1e1e" >CH</text>
<text transform="translate(1441.3 1812) scale(0.2505 0.2214)" font-size="100" fill="#1e1e1e" >2</text>
<g transform="translate(0 0)">
<path d="M1146.2 1141.4 L1202.6 1170.8 L1204.1 1236 L1149.2 1267.8 L1093.5 1239 L1091.6 1173.8 Z" fill="none" stroke="#222" stroke-width="2.2" stroke-linejoin="round" />
<line x1="1145.5" y1="1153.5" x2="1193.1" y2="1178.2" stroke="#222" stroke-width="2.2" />
<line x1="1194.3" y1="1229" x2="1148" y2="1255.8" stroke="#222" stroke-width="2.2" />
<line x1="1104.3" y1="1233.7" x2="1102.7" y2="1178.5" stroke="#222" stroke-width="2.2" />
<path d="M1093.5 1239 L1044.9 1280 L1045 1326.7" fill="none" stroke="#222" stroke-width="2.2" stroke-linejoin="round" />
<text transform="translate(1001.3 1360) scale(1.087 1)" font-size="37.6" fill="#111" >HN</text>
<line x1="1060.7" y1="1358" x2="1085" y2="1372.2" stroke="#222" stroke-width="2.2" />
<line x1="1081.3" y1="1367.6" x2="1110.7" y2="1346.4" stroke="#222" stroke-width="2.2" />
<line x1="1089.5" y1="1378.2" x2="1115.9" y2="1358.5" stroke="#222" stroke-width="2.2" />
<text transform="translate(1115.1 1351.8) scale(1.031 1)" font-size="38.2" fill="#111" >O</text>
<line x1="1085" y1="1372.2" x2="1085.6" y2="1425.2" stroke="#222" stroke-width="2.2" />
<path d="M1031 1519.2 L1031 1457 L1085.6 1425.2 L1142.6 1455.5 L1143.2 1519.2" fill="none" stroke="#222" stroke-width="2.2" stroke-linejoin="round" />
<line x1="1082.9" y1="1436.8" x2="1134.6" y2="1464.2" stroke="#222" stroke-width="2.2" />
<line x1="1044" y1="1515.2" x2="1044" y2="1461" stroke="#222" stroke-width="2.2" />
<line x1="1143.2" y1="1519.2" x2="1122.9" y2="1531.3" stroke="#222" stroke-width="2.2" />
<line x1="1122.9" y1="1516.2" x2="1133.5" y2="1510" stroke="#222" stroke-width="2.2" />
<line x1="1031" y1="1519.2" x2="1069.8" y2="1542" stroke="#222" stroke-width="2.2" />
<line x1="1142.6" y1="1455.5" x2="1167.4" y2="1439.8" stroke="#222" stroke-width="2.2" />
<text transform="translate(1171.2 1439.8) scale(1.010 1)" font-size="38.2" fill="#111" >OH</text>
<text transform="translate(1072.7 1564.7) scale(1.116 1)" font-size="36.3" fill="#111" >N</text>
<text transform="translate(1101.6 1536.2) scale(0.2614 0.2588)" font-size="100" fill="#111" font-weight="bold" >+</text>
<line x1="1087.4" y1="1572.3" x2="1087.4" y2="1602.6" stroke="#222" stroke-width="2.8" />
<text transform="translate(1043.4 1176.9) scale(1.047 1)" font-size="25.1" fill="#222" >H5</text>
<text transform="translate(1133 1294.2) scale(1.012 1)" font-size="25.1" fill="#222" >H3</text>
<text transform="translate(990.3 1453) scale(1.100 1)" font-size="25.1" fill="#222" >H5&#8242;</text>
<text transform="translate(990.4 1535.9) scale(1.031 1)" font-size="25.1" fill="#222" >H6&#8242;</text>
<text transform="translate(1152.5 1529.8) scale(1.100 1)" font-size="25.1" fill="#222" >H2&#8242;</text>
</g>
</g>
<defs>
<clipPath id="cc"><rect x="139" y="2264" width="1481.2" height="645"/></clipPath>
<pattern id="hb" width="6" height="2.8" patternUnits="userSpaceOnUse"><path d="M0 0.7 H6" stroke="#8b9ddc" stroke-width="0.85"/><path d="M1 0 V2.8" stroke="#b3c0ea" stroke-width="0.5"/></pattern>
<pattern id="hb2" width="3" height="2.4" patternUnits="userSpaceOnUse"><path d="M0 0.7 H3" stroke="#6a80ce" stroke-width="0.9"/><path d="M1 0 V2.4" stroke="#8093d8" stroke-width="0.6"/></pattern>
</defs>
<g>
<text transform="translate(53.8 2195) scale(0.9435 0.9803)" font-size="100" fill="#000" font-weight="bold" >C</text>
<line x1="137" y1="2257.3" x2="1620" y2="2257.3" stroke="#dadef2" stroke-width="2.8" />
<path d="M137 2254.6 L335 2254.5 L348.5 2254.3 L353.9 2253.9 L357.5 2252.7 L359.8 2250.3 L362 2247 L364.2 2250.3 L366.5 2252.7 L370.1 2253.9 L375.5 2254.3 L389 2254.5 L640.2 2254.2 L646.2 2253.3 L648.6 2251.2 L650.2 2245.6 L651.2 2234.2 L652.2 2218.9 L653.2 2234.2 L654.2 2245.6 L655.8 2251.2 L658.2 2253.3 L664.2 2254.2 L676.1 2254.3 L685.7 2253.9 L689.5 2253 L692.1 2250.4 L693.7 2245 L695.3 2237.9 L696.9 2245 L698.5 2250.3 L701.1 2252.9 L704.9 2253.8 L707.9 2254 L714.5 2254 L717.5 2253.7 L721.3 2252.4 L723.9 2249 L725.5 2241.9 L727.1 2232.4 L728.7 2241.9 L730.3 2249 L732.9 2252.5 L736.7 2253.8 L746.3 2254.4 L889.5 2253.5 L895.2 2250.7 L897.5 2244.5 L898.3 2238.3 L899 2227.7 L899.9 2193.3 L900.9 2147.4 L901.9 2193.2 L902.8 2227.6 L904.3 2244.3 L906.6 2250.3 L907.9 2251.4 L911.7 2252 L912.3 2251.8 L914.3 2249.7 L915.9 2244.5 L917.5 2237.5 L919.1 2244.7 L920.7 2250.1 L923.3 2252.8 L927.1 2253.8 L936.7 2254.3 L1475.2 2254.3 L1482.4 2253.3 L1485.3 2251.2 L1487.2 2245.7 L1488.4 2234.2 L1489.6 2218.9 L1490.8 2234.2 L1492 2245.6 L1493.9 2251.2 L1496.8 2253.3 L1504 2254.2 L1537 2253.8 L1542.1 2251.6 L1544.1 2246.9 L1545.5 2233.9 L1546.4 2207.3 L1547.2 2171.9 L1548 2207.3 L1548.9 2233.9 L1550.3 2246.9 L1552.3 2251.6 L1557.4 2253.8 L1620 2254.6" fill="none" stroke="#98a5d9" stroke-width="2.7" stroke-linejoin="round" />
<path d="M884.2 2222.8 L884.2 2215 L965.8 2215 L965.8 2222.8" fill="none" stroke="#505050" stroke-width="1.7" stroke-linejoin="round" />
<line x1="925.8" y1="2204.6" x2="925.8" y2="2215" stroke="#505050" stroke-width="1.7" />
<text transform="translate(903.5 2195.3) scale(0.939 1)" font-size="42.9" fill="#1e1e1e" >Ph</text>
<text transform="translate(1519.5 2147.6) scale(0.898 1)" font-size="45.1" fill="#1e1e1e" >CH</text>
<text transform="translate(1576.1 2162.2) scale(0.2358 0.2239)" font-size="100" fill="#1e1e1e" >3</text>
<text transform="translate(1448.8 2196) scale(0.889 1)" font-size="45.1" fill="#1e1e1e" >CH</text>
<text transform="translate(1506 2211.3) scale(0.2462 0.2186)" font-size="100" fill="#1e1e1e" >2</text>
<g clip-path="url(#cc)">
<path d="M1594.3 2892.6 L1594.3 2892.4 L1594.4 2892.1 L1594.6 2891.9 L1594.8 2891.7 L1595 2891.5 L1595.3 2891.3 L1595.7 2891.1 L1596.1 2890.9 L1596.6 2890.7 L1597.1 2890.5 L1597.6 2890.4 L1598.2 2890.2 L1598.8 2890.1 L1599.4 2890 L1600.1 2889.9 L1600.8 2889.8 L1601.5 2889.7 L1602.2 2889.7 L1603 2889.6 L1603.7 2889.6 L1604.4 2889.6 L1605.2 2889.7 L1605.9 2889.7 L1606.6 2889.8 L1607.3 2889.9 L1608 2890 L1608.6 2890.1 L1609.2 2890.2 L1609.8 2890.4 L1610.3 2890.5 L1610.8 2890.7 L1611.3 2890.9 L1611.7 2891.1 L1612.1 2891.3 L1612.4 2891.5 L1612.6 2891.7 L1612.8 2891.9 L1613 2892.1 L1613.1 2892.4 L1613.1 2892.6 L1613.1 2892.6 L1613.1 2892.8 L1613 2893.1 L1612.8 2893.3 L1612.6 2893.5 L1612.4 2893.7 L1612.1 2893.9 L1611.7 2894.1 L1611.3 2894.3 L1610.8 2894.5 L1610.3 2894.7 L1609.8 2894.8 L1609.2 2895 L1608.6 2895.1 L1608 2895.2 L1607.3 2895.3 L1606.6 2895.4 L1605.9 2895.5 L1605.2 2895.5 L1604.4 2895.6 L1603.7 2895.6 L1603 2895.6 L1602.2 2895.5 L1601.5 2895.5 L1600.8 2895.4 L1600.1 2895.3 L1599.4 2895.2 L1598.8 2895.1 L1598.2 2895 L1597.6 2894.8 L1597.1 2894.7 L1596.6 2894.5 L1596.1 2894.3 L1595.7 2894.1 L1595.3 2893.9 L1595 2893.7 L1594.8 2893.5 L1594.6 2893.3 L1594.4 2893.1 L1594.3 2892.8 L1594.3 2892.6 Z" fill="none" stroke="#48b2b2" stroke-width="1.2" stroke-linejoin="round" />
<path d="M1583.7 2892.6 L1583.8 2892.1 L1583.9 2891.6 L1584.3 2891.2 L1584.7 2890.7 L1585.2 2890.3 L1585.9 2889.8 L1586.6 2889.4 L1587.5 2889 L1588.5 2888.6 L1589.6 2888.2 L1590.7 2887.9 L1591.9 2887.6 L1593.3 2887.3 L1594.6 2887 L1596 2886.8 L1597.5 2886.6 L1599 2886.5 L1600.6 2886.4 L1602.1 2886.3 L1603.7 2886.3 L1605.3 2886.3 L1606.8 2886.4 L1608.4 2886.5 L1609.9 2886.6 L1611.4 2886.8 L1612.8 2887 L1614.1 2887.3 L1615.5 2887.6 L1616.7 2887.9 L1617.8 2888.2 L1618.9 2888.6 L1619.9 2889 L1620.8 2889.4 L1621.5 2889.8 L1622.2 2890.3 L1622.7 2890.7 L1623.1 2891.2 L1623.5 2891.6 L1623.6 2892.1 L1623.7 2892.6 L1623.7 2892.6 L1623.6 2893.1 L1623.5 2893.6 L1623.1 2894 L1622.7 2894.5 L1622.2 2894.9 L1621.5 2895.4 L1620.8 2895.8 L1619.9 2896.2 L1618.9 2896.6 L1617.8 2897 L1616.7 2897.3 L1615.5 2897.6 L1614.1 2897.9 L1612.8 2898.2 L1611.4 2898.4 L1609.9 2898.6 L1608.4 2898.7 L1606.8 2898.8 L1605.3 2898.9 L1603.7 2898.9 L1602.1 2898.9 L1600.6 2898.8 L1599 2898.7 L1597.5 2898.6 L1596 2898.4 L1594.6 2898.2 L1593.3 2897.9 L1591.9 2897.6 L1590.7 2897.3 L1589.6 2897 L1588.5 2896.6 L1587.5 2896.2 L1586.6 2895.8 L1585.9 2895.4 L1585.2 2894.9 L1584.7 2894.5 L1584.3 2894 L1583.9 2893.6 L1583.8 2893.1 L1583.7 2892.6 Z" fill="none" stroke="#48b2b2" stroke-width="1.2" stroke-linejoin="round" />
<path d="M1570.7 2892.6 L1570.8 2891.9 L1571.1 2891.1 L1571.6 2890.4 L1572.3 2889.6 L1573.2 2888.9 L1574.3 2888.2 L1575.6 2887.5 L1577 2886.8 L1578.6 2886.2 L1580.4 2885.6 L1582.3 2885 L1584.3 2884.5 L1586.5 2884 L1588.7 2883.5 L1591.1 2883.1 L1593.5 2882.8 L1596 2882.5 L1598.5 2882.3 L1601.1 2882.2 L1603.7 2882.2 L1606.3 2882.2 L1608.9 2882.3 L1611.4 2882.5 L1613.9 2882.8 L1616.3 2883.1 L1618.7 2883.5 L1620.9 2884 L1623.1 2884.5 L1625.1 2885 L1627 2885.6 L1628.8 2886.2 L1630.4 2886.8 L1631.8 2887.5 L1633.1 2888.2 L1634.2 2888.9 L1635.1 2889.6 L1635.8 2890.4 L1636.3 2891.1 L1636.6 2891.9 L1636.7 2892.6 L1636.7 2892.6 L1636.6 2893.3 L1636.3 2894.1 L1635.8 2894.8 L1635.1 2895.6 L1634.2 2896.3 L1633.1 2897 L1631.8 2897.7 L1630.4 2898.4 L1628.8 2899 L1627 2899.6 L1625.1 2900.2 L1623.1 2900.7 L1620.9 2901.2 L1618.7 2901.7 L1616.3 2902.1 L1613.9 2902.4 L1611.4 2902.7 L1608.9 2902.9 L1606.3 2903 L1603.7 2903 L1601.1 2903 L1598.5 2902.9 L1596 2902.7 L1593.5 2902.4 L1591.1 2902.1 L1588.7 2901.7 L1586.5 2901.2 L1584.3 2900.7 L1582.3 2900.2 L1580.4 2899.6 L1578.6 2899 L1577 2898.4 L1575.6 2897.7 L1574.3 2897 L1573.2 2896.3 L1572.3 2895.6 L1571.6 2894.8 L1571.1 2894.1 L1570.8 2893.3 L1570.7 2892.6 Z" fill="none" stroke="#48b2b2" stroke-width="1.2" stroke-linejoin="round" />
<path d="M1557.7 2892.6 L1557.8 2891.6 L1558.3 2890.7 L1559 2889.7 L1560 2888.7 L1561.2 2887.8 L1562.7 2886.8 L1564.5 2885.9 L1566.5 2885 L1568.7 2884.1 L1571.2 2883.2 L1573.8 2882.4 L1576.7 2881.6 L1579.7 2880.8 L1582.8 2880.2 L1586.1 2879.6 L1589.5 2879 L1593 2878.6 L1596.5 2878.3 L1600.1 2878.2 L1603.7 2878.1 L1607.3 2878.2 L1610.9 2878.3 L1614.4 2878.6 L1617.9 2879 L1621.3 2879.6 L1624.6 2880.2 L1627.7 2880.8 L1630.7 2881.6 L1633.6 2882.4 L1636.2 2883.2 L1638.7 2884.1 L1640.9 2885 L1642.9 2885.9 L1644.7 2886.8 L1646.2 2887.8 L1647.4 2888.7 L1648.4 2889.7 L1649.1 2890.7 L1649.6 2891.6 L1649.7 2892.6 L1649.7 2892.6 L1649.6 2893.6 L1649.1 2894.5 L1648.4 2895.5 L1647.4 2896.5 L1646.2 2897.4 L1644.7 2898.4 L1642.9 2899.3 L1640.9 2900.2 L1638.7 2901.1 L1636.2 2902 L1633.6 2902.8 L1630.7 2903.6 L1627.7 2904.4 L1624.6 2905 L1621.3 2905.6 L1617.9 2906.2 L1614.4 2906.6 L1610.9 2906.9 L1607.3 2907 L1603.7 2907.1 L1600.1 2907 L1596.5 2906.9 L1593 2906.6 L1589.5 2906.2 L1586.1 2905.6 L1582.8 2905 L1579.7 2904.4 L1576.7 2903.6 L1573.8 2902.8 L1571.2 2902 L1568.7 2901.1 L1566.5 2900.2 L1564.5 2899.3 L1562.7 2898.4 L1561.2 2897.4 L1560 2896.5 L1559 2895.5 L1558.3 2894.5 L1557.8 2893.6 L1557.7 2892.6 Z" fill="none" stroke="#48b2b2" stroke-width="1.2" stroke-linejoin="round" />
<path d="M1547.7 2892.6 L1547.9 2891.5 L1548.4 2890.4 L1549.2 2889.3 L1550.4 2888.2 L1552 2887 L1553.8 2885.9 L1556 2884.8 L1558.4 2883.7 L1561.1 2882.6 L1564.1 2881.6 L1567.3 2880.5 L1570.8 2879.5 L1574.4 2878.6 L1578.3 2877.7 L1582.3 2876.9 L1586.4 2876.2 L1590.6 2875.7 L1594.9 2875.3 L1599.3 2875 L1603.7 2874.9 L1608.1 2875 L1612.5 2875.3 L1616.8 2875.7 L1621 2876.2 L1625.1 2876.9 L1629.1 2877.7 L1633 2878.6 L1636.6 2879.5 L1640.1 2880.5 L1643.3 2881.6 L1646.3 2882.6 L1649 2883.7 L1651.4 2884.8 L1653.6 2885.9 L1655.4 2887 L1657 2888.2 L1658.2 2889.3 L1659 2890.4 L1659.5 2891.5 L1659.7 2892.6 L1659.7 2892.6 L1659.5 2893.7 L1659 2894.8 L1658.2 2895.9 L1657 2897 L1655.4 2898.2 L1653.6 2899.3 L1651.4 2900.4 L1649 2901.5 L1646.3 2902.6 L1643.3 2903.6 L1640.1 2904.7 L1636.6 2905.7 L1633 2906.6 L1629.1 2907.5 L1625.1 2908.3 L1621 2909 L1616.8 2909.5 L1612.5 2909.9 L1608.1 2910.2 L1603.7 2910.3 L1599.3 2910.2 L1594.9 2909.9 L1590.6 2909.5 L1586.4 2909 L1582.3 2908.3 L1578.3 2907.5 L1574.4 2906.6 L1570.8 2905.7 L1567.3 2904.7 L1564.1 2903.6 L1561.1 2902.6 L1558.4 2901.5 L1556 2900.4 L1553.8 2899.3 L1552 2898.2 L1550.4 2897 L1549.2 2895.9 L1548.4 2894.8 L1547.9 2893.7 L1547.7 2892.6 Z" fill="none" stroke="#48b2b2" stroke-width="1.2" stroke-linejoin="round" />
<path d="M1533.7 2892.6 L1533.9 2891.3 L1534.6 2890.1 L1535.6 2888.8 L1537.1 2887.5 L1539 2886.2 L1541.3 2884.9 L1544 2883.6 L1547.1 2882.3 L1550.5 2880.9 L1554.2 2879.6 L1558.2 2878.3 L1562.6 2877 L1567.1 2875.7 L1571.9 2874.5 L1576.9 2873.4 L1582.1 2872.4 L1587.4 2871.6 L1592.7 2871 L1598.2 2870.6 L1603.7 2870.5 L1609.2 2870.6 L1614.7 2871 L1620 2871.6 L1625.3 2872.4 L1630.5 2873.4 L1635.5 2874.5 L1640.3 2875.7 L1644.8 2877 L1649.2 2878.3 L1653.2 2879.6 L1656.9 2880.9 L1660.3 2882.3 L1663.4 2883.6 L1666.1 2884.9 L1668.4 2886.2 L1670.3 2887.5 L1671.8 2888.8 L1672.8 2890.1 L1673.5 2891.3 L1673.7 2892.6 L1673.7 2892.6 L1673.5 2893.9 L1672.8 2895.1 L1671.8 2896.4 L1670.3 2897.7 L1668.4 2899 L1666.1 2900.3 L1663.4 2901.6 L1660.3 2902.9 L1656.9 2904.3 L1653.2 2905.6 L1649.2 2906.9 L1644.8 2908.2 L1640.3 2909.5 L1635.5 2910.7 L1630.5 2911.8 L1625.3 2912.8 L1620 2913.6 L1614.7 2914.2 L1609.2 2914.6 L1603.7 2914.7 L1598.2 2914.6 L1592.7 2914.2 L1587.4 2913.6 L1582.1 2912.8 L1576.9 2911.8 L1571.9 2910.7 L1567.1 2909.5 L1562.6 2908.2 L1558.2 2906.9 L1554.2 2905.6 L1550.5 2904.3 L1547.1 2902.9 L1544 2901.6 L1541.3 2900.3 L1539 2899 L1537.1 2897.7 L1535.6 2896.4 L1534.6 2895.1 L1533.9 2893.9 L1533.7 2892.6 Z" fill="none" stroke="#48b2b2" stroke-width="1.2" stroke-linejoin="round" />
<path d="M1518.7 2892.6 L1519 2891.2 L1519.7 2889.8 L1521 2888.4 L1522.9 2887 L1525.2 2885.5 L1528 2884.1 L1531.2 2882.6 L1534.9 2881 L1539.1 2879.4 L1543.6 2877.8 L1548.5 2876.2 L1553.7 2874.6 L1559.3 2873 L1565.1 2871.4 L1571.2 2869.9 L1577.4 2868.6 L1583.9 2867.4 L1590.4 2866.5 L1597 2866 L1603.7 2865.8 L1610.4 2866 L1617 2866.5 L1623.5 2867.4 L1630 2868.6 L1636.2 2869.9 L1642.3 2871.4 L1648.1 2873 L1653.7 2874.6 L1658.9 2876.2 L1663.8 2877.8 L1668.3 2879.4 L1672.5 2881 L1676.2 2882.6 L1679.4 2884.1 L1682.2 2885.5 L1684.5 2887 L1686.4 2888.4 L1687.7 2889.8 L1688.4 2891.2 L1688.7 2892.6 L1688.7 2892.6 L1688.4 2894 L1687.7 2895.4 L1686.4 2896.8 L1684.5 2898.2 L1682.2 2899.7 L1679.4 2901.1 L1676.2 2902.6 L1672.5 2904.2 L1668.3 2905.8 L1663.8 2907.4 L1658.9 2909 L1653.7 2910.6 L1648.1 2912.2 L1642.3 2913.8 L1636.2 2915.3 L1630 2916.6 L1623.5 2917.8 L1617 2918.7 L1610.4 2919.2 L1603.7 2919.4 L1597 2919.2 L1590.4 2918.7 L1583.9 2917.8 L1577.4 2916.6 L1571.2 2915.3 L1565.1 2913.8 L1559.3 2912.2 L1553.7 2910.6 L1548.5 2909 L1543.6 2907.4 L1539.1 2905.8 L1534.9 2904.2 L1531.2 2902.6 L1528 2901.1 L1525.2 2899.7 L1522.9 2898.2 L1521 2896.8 L1519.7 2895.4 L1519 2894 L1518.7 2892.6 Z" fill="none" stroke="#48b2b2" stroke-width="1.2" stroke-linejoin="round" />
<path d="M1503.7 2892.6 L1504 2891.1 L1504.9 2889.6 L1506.5 2888.1 L1508.6 2886.6 L1511.3 2885 L1514.6 2883.4 L1518.4 2881.8 L1522.8 2880 L1527.7 2878.3 L1533 2876.4 L1538.8 2874.5 L1544.9 2872.6 L1551.5 2870.6 L1558.3 2868.6 L1565.4 2866.7 L1572.8 2864.9 L1580.4 2863.3 L1588.1 2862.1 L1595.9 2861.3 L1603.7 2861.1 L1611.5 2861.3 L1619.3 2862.1 L1627 2863.3 L1634.6 2864.9 L1642 2866.7 L1649.1 2868.6 L1655.9 2870.6 L1662.5 2872.6 L1668.6 2874.5 L1674.4 2876.4 L1679.7 2878.3 L1684.6 2880 L1689 2881.8 L1692.8 2883.4 L1696.1 2885 L1698.8 2886.6 L1700.9 2888.1 L1702.5 2889.6 L1703.4 2891.1 L1703.7 2892.6 L1703.7 2892.6 L1703.4 2894.1 L1702.5 2895.6 L1700.9 2897.1 L1698.8 2898.6 L1696.1 2900.2 L1692.8 2901.8 L1689 2903.4 L1684.6 2905.2 L1679.7 2906.9 L1674.4 2908.8 L1668.6 2910.7 L1662.5 2912.6 L1655.9 2914.6 L1649.1 2916.6 L1642 2918.5 L1634.6 2920.3 L1627 2921.9 L1619.3 2923.1 L1611.5 2923.9 L1603.7 2924.1 L1595.9 2923.9 L1588.1 2923.1 L1580.4 2921.9 L1572.8 2920.3 L1565.4 2918.5 L1558.3 2916.6 L1551.5 2914.6 L1544.9 2912.6 L1538.8 2910.7 L1533 2908.8 L1527.7 2906.9 L1522.8 2905.2 L1518.4 2903.4 L1514.6 2901.8 L1511.3 2900.2 L1508.6 2898.6 L1506.5 2897.1 L1504.9 2895.6 L1504 2894.1 L1503.7 2892.6 Z" fill="none" stroke="#48b2b2" stroke-width="1.2" stroke-linejoin="round" />
<path d="M1487.7 2892.6 L1488.1 2891 L1489.1 2889.5 L1490.9 2887.9 L1493.4 2886.3 L1496.5 2884.6 L1500.3 2882.9 L1504.8 2881.1 L1509.9 2879.2 L1515.5 2877.3 L1521.7 2875.2 L1528.4 2873 L1535.5 2870.8 L1543.1 2868.4 L1551 2866 L1559.3 2863.6 L1567.9 2861.2 L1576.6 2859.2 L1585.6 2857.5 L1594.6 2856.4 L1603.7 2856 L1612.8 2856.4 L1621.8 2857.5 L1630.8 2859.2 L1639.5 2861.2 L1648.1 2863.6 L1656.4 2866 L1664.3 2868.4 L1671.9 2870.8 L1679 2873 L1685.7 2875.2 L1691.9 2877.3 L1697.5 2879.2 L1702.6 2881.1 L1707.1 2882.9 L1710.9 2884.6 L1714 2886.3 L1716.5 2887.9 L1718.3 2889.5 L1719.3 2891 L1719.7 2892.6 L1719.7 2892.6 L1719.3 2894.2 L1718.3 2895.7 L1716.5 2897.3 L1714 2898.9 L1710.9 2900.6 L1707.1 2902.3 L1702.6 2904.1 L1697.5 2906 L1691.9 2907.9 L1685.7 2910 L1679 2912.2 L1671.9 2914.4 L1664.3 2916.8 L1656.4 2919.2 L1648.1 2921.6 L1639.5 2924 L1630.8 2926 L1621.8 2927.7 L1612.8 2928.8 L1603.7 2929.2 L1594.6 2928.8 L1585.6 2927.7 L1576.6 2926 L1567.9 2924 L1559.3 2921.6 L1551 2919.2 L1543.1 2916.8 L1535.5 2914.4 L1528.4 2912.2 L1521.7 2910 L1515.5 2907.9 L1509.9 2906 L1504.8 2904.1 L1500.3 2902.3 L1496.5 2900.6 L1493.4 2898.9 L1490.9 2897.3 L1489.1 2895.7 L1488.1 2894.2 L1487.7 2892.6 Z" fill="none" stroke="#48b2b2" stroke-width="1.2" stroke-linejoin="round" />
<path d="M1472.7 2892.6 L1473.1 2891 L1474.3 2889.4 L1476.3 2887.7 L1479.1 2886 L1482.7 2884.3 L1487 2882.5 L1492 2880.6 L1497.7 2878.6 L1504.1 2876.5 L1511.1 2874.3 L1518.6 2871.9 L1526.7 2869.4 L1535.3 2866.7 L1544.2 2863.8 L1553.6 2860.9 L1563.2 2858.1 L1573.1 2855.4 L1583.2 2853.2 L1593.4 2851.8 L1603.7 2851.3 L1614 2851.8 L1624.2 2853.2 L1634.3 2855.4 L1644.2 2858.1 L1653.8 2860.9 L1663.2 2863.8 L1672.1 2866.7 L1680.7 2869.4 L1688.8 2871.9 L1696.3 2874.3 L1703.3 2876.5 L1709.7 2878.6 L1715.4 2880.6 L1720.4 2882.5 L1724.7 2884.3 L1728.3 2886 L1731.1 2887.7 L1733.1 2889.4 L1734.3 2891 L1734.7 2892.6 L1734.7 2892.6 L1734.3 2894.2 L1733.1 2895.8 L1731.1 2897.5 L1728.3 2899.2 L1724.7 2900.9 L1720.4 2902.7 L1715.4 2904.6 L1709.7 2906.6 L1703.3 2908.7 L1696.3 2910.9 L1688.8 2913.3 L1680.7 2915.8 L1672.1 2918.5 L1663.2 2921.4 L1653.8 2924.3 L1644.2 2927.1 L1634.3 2929.8 L1624.2 2932 L1614 2933.4 L1603.7 2933.9 L1593.4 2933.4 L1583.2 2932 L1573.1 2929.8 L1563.2 2927.1 L1553.6 2924.3 L1544.2 2921.4 L1535.3 2918.5 L1526.7 2915.8 L1518.6 2913.3 L1511.1 2910.9 L1504.1 2908.7 L1497.7 2906.6 L1492 2904.6 L1487 2902.7 L1482.7 2900.9 L1479.1 2899.2 L1476.3 2897.5 L1474.3 2895.8 L1473.1 2894.2 L1472.7 2892.6 Z" fill="none" stroke="#48b2b2" stroke-width="1.2" stroke-linejoin="round" />
<path d="M1453.7 2892.6 L1454.2 2890.9 L1455.5 2889.3 L1457.8 2887.6 L1461 2885.8 L1465.1 2884 L1470 2882.1 L1475.8 2880.2 L1482.3 2878 L1489.6 2875.8 L1497.6 2873.4 L1506.3 2870.7 L1515.5 2867.9 L1525.3 2864.8 L1535.6 2861.5 L1546.3 2858 L1557.3 2854.4 L1568.7 2851 L1580.2 2848 L1591.9 2846 L1603.7 2845.3 L1615.5 2846 L1627.2 2848 L1638.7 2851 L1650.1 2854.4 L1661.1 2858 L1671.8 2861.5 L1682.1 2864.8 L1691.9 2867.9 L1701.1 2870.7 L1709.8 2873.4 L1717.8 2875.8 L1725.1 2878 L1731.6 2880.2 L1737.4 2882.1 L1742.3 2884 L1746.4 2885.8 L1749.6 2887.6 L1751.9 2889.3 L1753.2 2890.9 L1753.7 2892.6 L1753.7 2892.6 L1753.2 2894.3 L1751.9 2895.9 L1749.6 2897.6 L1746.4 2899.4 L1742.3 2901.2 L1737.4 2903.1 L1731.6 2905 L1725.1 2907.2 L1717.8 2909.4 L1709.8 2911.8 L1701.1 2914.5 L1691.9 2917.3 L1682.1 2920.4 L1671.8 2923.7 L1661.1 2927.2 L1650.1 2930.8 L1638.7 2934.2 L1627.2 2937.2 L1615.5 2939.2 L1603.7 2939.9 L1591.9 2939.2 L1580.2 2937.2 L1568.7 2934.2 L1557.3 2930.8 L1546.3 2927.2 L1535.6 2923.7 L1525.3 2920.4 L1515.5 2917.3 L1506.3 2914.5 L1497.6 2911.8 L1489.6 2909.4 L1482.3 2907.2 L1475.8 2905 L1470 2903.1 L1465.1 2901.2 L1461 2899.4 L1457.8 2897.6 L1455.5 2895.9 L1454.2 2894.3 L1453.7 2892.6 Z" fill="none" stroke="#48b2b2" stroke-width="1.2" stroke-linejoin="round" />
<path d="M1430.7 2892.6 L1431.2 2890.9 L1432.8 2889.2 L1435.5 2887.4 L1439.2 2885.6 L1443.9 2883.8 L1449.6 2881.8 L1456.2 2879.7 L1463.7 2877.5 L1472.1 2875.1 L1481.4 2872.5 L1491.3 2869.7 L1502 2866.5 L1513.3 2863 L1525.2 2859.1 L1537.5 2854.9 L1550.2 2850.4 L1563.3 2846 L1576.6 2841.9 L1590.1 2839.1 L1603.7 2838 L1617.3 2839.1 L1630.8 2841.9 L1644.1 2846 L1657.2 2850.4 L1669.9 2854.9 L1682.2 2859.1 L1694.1 2863 L1705.4 2866.5 L1716.1 2869.7 L1726 2872.5 L1735.3 2875.1 L1743.7 2877.5 L1751.2 2879.7 L1757.8 2881.8 L1763.5 2883.8 L1768.2 2885.6 L1771.9 2887.4 L1774.6 2889.2 L1776.2 2890.9 L1776.7 2892.6 L1776.7 2892.6 L1776.2 2894.3 L1774.6 2896 L1771.9 2897.8 L1768.2 2899.6 L1763.5 2901.4 L1757.8 2903.4 L1751.2 2905.5 L1743.7 2907.7 L1735.3 2910.1 L1726 2912.7 L1716.1 2915.5 L1705.4 2918.7 L1694.1 2922.2 L1682.2 2926.1 L1669.9 2930.3 L1657.2 2934.8 L1644.1 2939.2 L1630.8 2943.3 L1617.3 2946.1 L1603.7 2947.2 L1590.1 2946.1 L1576.6 2943.3 L1563.3 2939.2 L1550.2 2934.8 L1537.5 2930.3 L1525.2 2926.1 L1513.3 2922.2 L1502 2918.7 L1491.3 2915.5 L1481.4 2912.7 L1472.1 2910.1 L1463.7 2907.7 L1456.2 2905.5 L1449.6 2903.4 L1443.9 2901.4 L1439.2 2899.6 L1435.5 2897.8 L1432.8 2896 L1431.2 2894.3 L1430.7 2892.6 Z" fill="none" stroke="#48b2b2" stroke-width="1.2" stroke-linejoin="round" />
<path d="M1411.7 2892.6 L1412.3 2890.9 L1414.1 2889.1 L1417 2887.4 L1421.1 2885.5 L1426.3 2883.6 L1432.6 2881.6 L1440 2879.5 L1448.4 2877.2 L1457.7 2874.7 L1467.9 2872 L1479 2869 L1490.8 2865.6 L1503.4 2861.8 L1516.5 2857.5 L1530.2 2852.8 L1544.4 2847.5 L1558.9 2842.1 L1573.7 2837.1 L1588.6 2833.4 L1603.7 2832 L1618.8 2833.4 L1633.7 2837.1 L1648.5 2842.1 L1663 2847.5 L1677.2 2852.8 L1690.9 2857.5 L1704 2861.8 L1716.6 2865.6 L1728.4 2869 L1739.5 2872 L1749.7 2874.7 L1759 2877.2 L1767.4 2879.5 L1774.8 2881.6 L1781.1 2883.6 L1786.3 2885.5 L1790.4 2887.4 L1793.3 2889.1 L1795.1 2890.9 L1795.7 2892.6 L1795.7 2892.6 L1795.1 2894.3 L1793.3 2896.1 L1790.4 2897.8 L1786.3 2899.7 L1781.1 2901.6 L1774.8 2903.6 L1767.4 2905.7 L1759 2908 L1749.7 2910.5 L1739.5 2913.2 L1728.4 2916.2 L1716.6 2919.6 L1704 2923.4 L1690.9 2927.7 L1677.2 2932.4 L1663 2937.7 L1648.5 2943.1 L1633.7 2948.1 L1618.8 2951.8 L1603.7 2953.2 L1588.6 2951.8 L1573.7 2948.1 L1558.9 2943.1 L1544.4 2937.7 L1530.2 2932.4 L1516.5 2927.7 L1503.4 2923.4 L1490.8 2919.6 L1479 2916.2 L1467.9 2913.2 L1457.7 2910.5 L1448.4 2908 L1440 2905.7 L1432.6 2903.6 L1426.3 2901.6 L1421.1 2899.7 L1417 2897.8 L1414.1 2896.1 L1412.3 2894.3 L1411.7 2892.6 Z" fill="none" stroke="#48b2b2" stroke-width="1.2" stroke-linejoin="round" />
<path d="M1391.7 2892.6 L1392.4 2890.9 L1394.3 2889.1 L1397.6 2887.3 L1402.1 2885.4 L1407.8 2883.5 L1414.8 2881.5 L1422.9 2879.3 L1432.2 2876.9 L1442.5 2874.4 L1453.8 2871.6 L1466 2868.4 L1479.1 2864.8 L1492.9 2860.8 L1507.5 2856.1 L1522.6 2850.8 L1538.2 2844.8 L1554.2 2838.4 L1570.5 2832.3 L1587.1 2827.5 L1603.7 2825.7 L1620.3 2827.5 L1636.9 2832.3 L1653.2 2838.4 L1669.2 2844.8 L1684.8 2850.8 L1699.9 2856.1 L1714.5 2860.8 L1728.3 2864.8 L1741.4 2868.4 L1753.6 2871.6 L1764.9 2874.4 L1775.2 2876.9 L1784.5 2879.3 L1792.6 2881.5 L1799.6 2883.5 L1805.3 2885.4 L1809.8 2887.3 L1813.1 2889.1 L1815 2890.9 L1815.7 2892.6 L1815.7 2892.6 L1815 2894.3 L1813.1 2896.1 L1809.8 2897.9 L1805.3 2899.8 L1799.6 2901.7 L1792.6 2903.7 L1784.5 2905.9 L1775.2 2908.3 L1764.9 2910.8 L1753.6 2913.6 L1741.4 2916.8 L1728.3 2920.4 L1714.5 2924.4 L1699.9 2929.1 L1684.8 2934.4 L1669.2 2940.4 L1653.2 2946.8 L1636.9 2952.9 L1620.3 2957.7 L1603.7 2959.5 L1587.1 2957.7 L1570.5 2952.9 L1554.2 2946.8 L1538.2 2940.4 L1522.6 2934.4 L1507.5 2929.1 L1492.9 2924.4 L1479.1 2920.4 L1466 2916.8 L1453.8 2913.6 L1442.5 2910.8 L1432.2 2908.3 L1422.9 2905.9 L1414.8 2903.7 L1407.8 2901.7 L1402.1 2899.8 L1397.6 2897.9 L1394.3 2896.1 L1392.4 2894.3 L1391.7 2892.6 Z" fill="none" stroke="#48b2b2" stroke-width="1.2" stroke-linejoin="round" />
<path d="M1367.7 2892.6 L1368.4 2890.8 L1370.6 2889.1 L1374.2 2887.2 L1379.3 2885.4 L1385.7 2883.4 L1393.4 2881.3 L1402.5 2879.1 L1412.8 2876.7 L1424.2 2874.1 L1436.8 2871.1 L1450.4 2867.9 L1465 2864.1 L1480.4 2859.8 L1496.6 2854.7 L1513.4 2848.8 L1530.8 2842 L1548.6 2834.4 L1566.8 2826.7 L1585.2 2820.6 L1603.7 2818.2 L1622.2 2820.6 L1640.6 2826.7 L1658.8 2834.4 L1676.6 2842 L1694 2848.8 L1710.8 2854.7 L1727 2859.8 L1742.4 2864.1 L1757 2867.9 L1770.6 2871.1 L1783.2 2874.1 L1794.6 2876.7 L1804.9 2879.1 L1814 2881.3 L1821.7 2883.4 L1828.1 2885.4 L1833.2 2887.2 L1836.8 2889.1 L1839 2890.8 L1839.7 2892.6 L1839.7 2892.6 L1839 2894.4 L1836.8 2896.1 L1833.2 2898 L1828.1 2899.8 L1821.7 2901.8 L1814 2903.9 L1804.9 2906.1 L1794.6 2908.5 L1783.2 2911.1 L1770.6 2914.1 L1757 2917.3 L1742.4 2921.1 L1727 2925.4 L1710.8 2930.5 L1694 2936.4 L1676.6 2943.2 L1658.8 2950.8 L1640.6 2958.5 L1622.2 2964.6 L1603.7 2967 L1585.2 2964.6 L1566.8 2958.5 L1548.6 2950.8 L1530.8 2943.2 L1513.4 2936.4 L1496.6 2930.5 L1480.4 2925.4 L1465 2921.1 L1450.4 2917.3 L1436.8 2914.1 L1424.2 2911.1 L1412.8 2908.5 L1402.5 2906.1 L1393.4 2903.9 L1385.7 2901.8 L1379.3 2899.8 L1374.2 2898 L1370.6 2896.1 L1368.4 2894.4 L1367.7 2892.6 Z" fill="none" stroke="#48b2b2" stroke-width="1.2" stroke-linejoin="round" />
<path d="M1345.7 2892.6 L1346.5 2890.8 L1348.9 2889 L1352.8 2887.2 L1358.3 2885.3 L1365.3 2883.3 L1373.8 2881.2 L1383.7 2879 L1395 2876.5 L1407.5 2873.8 L1421.3 2870.8 L1436.1 2867.5 L1452.1 2863.6 L1468.9 2859 L1486.6 2853.7 L1505 2847.3 L1524 2839.8 L1543.5 2831.1 L1563.3 2821.9 L1583.5 2814.3 L1603.7 2811.2 L1623.9 2814.3 L1644.1 2821.9 L1663.9 2831.1 L1683.4 2839.8 L1702.4 2847.3 L1720.8 2853.7 L1738.5 2859 L1755.3 2863.6 L1771.3 2867.5 L1786.1 2870.8 L1799.9 2873.8 L1812.4 2876.5 L1823.7 2879 L1833.6 2881.2 L1842.1 2883.3 L1849.1 2885.3 L1854.6 2887.2 L1858.5 2889 L1860.9 2890.8 L1861.7 2892.6 L1861.7 2892.6 L1860.9 2894.4 L1858.5 2896.2 L1854.6 2898 L1849.1 2899.9 L1842.1 2901.9 L1833.6 2904 L1823.7 2906.2 L1812.4 2908.7 L1799.9 2911.4 L1786.1 2914.4 L1771.3 2917.7 L1755.3 2921.6 L1738.5 2926.2 L1720.8 2931.5 L1702.4 2937.9 L1683.4 2945.4 L1663.9 2954.1 L1644.1 2963.3 L1623.9 2970.9 L1603.7 2974 L1583.5 2970.9 L1563.3 2963.3 L1543.5 2954.1 L1524 2945.4 L1505 2937.9 L1486.6 2931.5 L1468.9 2926.2 L1452.1 2921.6 L1436.1 2917.7 L1421.3 2914.4 L1407.5 2911.4 L1395 2908.7 L1383.7 2906.2 L1373.8 2904 L1365.3 2901.9 L1358.3 2899.9 L1352.8 2898 L1348.9 2896.2 L1346.5 2894.4 L1345.7 2892.6 Z" fill="none" stroke="#48b2b2" stroke-width="1.2" stroke-linejoin="round" />
<path d="M1379.7 2892.6 L1380.4 2890.8 L1382.5 2889.1 L1385.9 2887.3 L1390.7 2885.4 L1396.8 2883.4 L1404.1 2881.4 L1412.7 2879.2 L1422.5 2876.8 L1433.4 2874.2 L1445.3 2871.3 L1458.2 2868.1 L1472 2864.4 L1486.7 2860.2 L1502 2855.4 L1518 2849.8 L1534.5 2843.4 L1551.4 2836.4 L1568.7 2829.4 L1586.1 2824 L1603.7 2821.9 L1621.3 2824 L1638.7 2829.4 L1656 2836.4 L1672.9 2843.4 L1689.4 2849.8 L1705.4 2855.4 L1720.7 2860.2 L1735.4 2864.4 L1749.2 2868.1 L1762.1 2871.3 L1774 2874.2 L1784.9 2876.8 L1794.7 2879.2 L1803.3 2881.4 L1810.6 2883.4 L1816.7 2885.4 L1821.5 2887.3 L1824.9 2889.1 L1827 2890.8 L1827.7 2892.6 L1827.7 2892.6 L1827 2894.4 L1824.9 2896.1 L1821.5 2897.9 L1816.7 2899.8 L1810.6 2901.8 L1803.3 2903.8 L1794.7 2906 L1784.9 2908.4 L1774 2911 L1762.1 2913.9 L1749.2 2917.1 L1735.4 2920.8 L1720.7 2925 L1705.4 2929.8 L1689.4 2935.4 L1672.9 2941.8 L1656 2948.8 L1638.7 2955.8 L1621.3 2961.2 L1603.7 2963.3 L1586.1 2961.2 L1568.7 2955.8 L1551.4 2948.8 L1534.5 2941.8 L1518 2935.4 L1502 2929.8 L1486.7 2925 L1472 2920.8 L1458.2 2917.1 L1445.3 2913.9 L1433.4 2911 L1422.5 2908.4 L1412.7 2906 L1404.1 2903.8 L1396.8 2901.8 L1390.7 2899.8 L1385.9 2897.9 L1382.5 2896.1 L1380.4 2894.4 L1379.7 2892.6 Z" fill="none" stroke="#8fd0d0" stroke-width="0.7" stroke-linejoin="round" />
<path d="M1356.7 2892.6 L1357.5 2890.8 L1359.7 2889 L1363.5 2887.2 L1368.8 2885.3 L1375.5 2883.3 L1383.6 2881.3 L1393.1 2879 L1403.9 2876.6 L1415.9 2873.9 L1429 2871 L1443.3 2867.6 L1458.5 2863.8 L1474.6 2859.4 L1491.6 2854.2 L1509.2 2848 L1527.4 2840.8 L1546 2832.7 L1565.1 2824.3 L1584.3 2817.4 L1603.7 2814.7 L1623.1 2817.4 L1642.3 2824.3 L1661.4 2832.7 L1680 2840.8 L1698.2 2848 L1715.8 2854.2 L1732.8 2859.4 L1748.9 2863.8 L1764.1 2867.6 L1778.4 2871 L1791.5 2873.9 L1803.5 2876.6 L1814.3 2879 L1823.8 2881.3 L1831.9 2883.3 L1838.6 2885.3 L1843.9 2887.2 L1847.7 2889 L1849.9 2890.8 L1850.7 2892.6 L1850.7 2892.6 L1849.9 2894.4 L1847.7 2896.2 L1843.9 2898 L1838.6 2899.9 L1831.9 2901.9 L1823.8 2903.9 L1814.3 2906.2 L1803.5 2908.6 L1791.5 2911.3 L1778.4 2914.2 L1764.1 2917.6 L1748.9 2921.4 L1732.8 2925.8 L1715.8 2931 L1698.2 2937.2 L1680 2944.4 L1661.4 2952.5 L1642.3 2960.9 L1623.1 2967.8 L1603.7 2970.5 L1584.3 2967.8 L1565.1 2960.9 L1546 2952.5 L1527.4 2944.4 L1509.2 2937.2 L1491.6 2931 L1474.6 2925.8 L1458.5 2921.4 L1443.3 2917.6 L1429 2914.2 L1415.9 2911.3 L1403.9 2908.6 L1393.1 2906.2 L1383.6 2903.9 L1375.5 2901.9 L1368.8 2899.9 L1363.5 2898 L1359.7 2896.2 L1357.5 2894.4 L1356.7 2892.6 Z" fill="none" stroke="#8fd0d0" stroke-width="0.7" stroke-linejoin="round" />
<path d="M1621 2812.2 Q1592 2810.7 1566.5 2819.7 Q1557.5 2822.7 1557.5 2831.2 L1557.5 2910" fill="none" stroke="#5fbcbc" stroke-width="0.9"/>
<path d="M1621 2816.6 Q1592 2815.1 1567.2 2824.1 Q1558.2 2827.1 1558.2 2835.6 L1558.2 2910" fill="none" stroke="#5fbcbc" stroke-width="0.9"/>
<path d="M1621 2821 Q1592 2819.5 1567.9 2828.5 Q1558.9 2831.5 1558.9 2840 L1558.9 2910" fill="none" stroke="#5fbcbc" stroke-width="0.9"/>
<path d="M1621 2825.4 Q1592 2823.9 1568.6 2832.9 Q1559.6 2835.9 1559.6 2844.4 L1559.6 2910" fill="none" stroke="#5fbcbc" stroke-width="0.9"/>
<path d="M1621 2829.8 Q1592 2828.3 1569.3 2837.3 Q1560.3 2840.3 1560.3 2848.8 L1560.3 2910" fill="none" stroke="#5fbcbc" stroke-width="0.9"/>
<path d="M1621 2834.2 Q1592 2832.7 1570 2841.7 Q1561 2844.7 1561 2853.2 L1561 2910" fill="none" stroke="#5fbcbc" stroke-width="0.9"/>
<path d="M1621 2838.6 Q1592 2837.1 1570.7 2846.1 Q1561.7 2849.1 1561.7 2857.6 L1561.7 2910" fill="none" stroke="#5fbcbc" stroke-width="0.9"/>
<path d="M1621 2843 Q1592 2841.5 1571.4 2850.5 Q1562.4 2853.5 1562.4 2862 L1562.4 2910" fill="none" stroke="#5fbcbc" stroke-width="0.9"/>
<path d="M1621 2847.4 Q1592 2845.9 1572.1 2854.9 Q1563.1 2857.9 1563.1 2866.4 L1563.1 2910" fill="none" stroke="#5fbcbc" stroke-width="0.9"/>
<line x1="1489.6" y1="2849" x2="1489.6" y2="2910" stroke="#2a9f9f" stroke-width="2.6" />
<line x1="1546.3" y1="2829" x2="1546.3" y2="2910" stroke="#2a9f9f" stroke-width="2.4" />
<line x1="1557.5" y1="2824" x2="1557.5" y2="2910" stroke="#6cc4c4" stroke-width="1.4" />
<line x1="1619" y1="2812" x2="1619" y2="2910" stroke="#55b9b9" stroke-width="2.5" />
<path d="M1600.9 2262 C1600.9 2265.5 1602.5 2266.6 1605 2266.6 C1607.1 2266.6 1608.5 2265.5 1608.5 2262" fill="none" stroke="#7287d2" stroke-width="0.85"/>
<path d="M1597.8 2262 C1597.8 2268.1 1600.7 2270.3 1605 2270.3 C1608.7 2270.3 1611.2 2268.1 1611.2 2262" fill="none" stroke="#7287d2" stroke-width="0.85"/>
<path d="M1595 2262 C1595 2270.6 1599 2273.9 1605 2273.9 C1610.1 2273.9 1613.5 2270.6 1613.5 2262" fill="none" stroke="#7287d2" stroke-width="0.85"/>
<path d="M1592.5 2262 C1592.5 2273.2 1597.5 2277.5 1605 2277.5 C1611.4 2277.5 1615.7 2273.2 1615.7 2262" fill="none" stroke="#7287d2" stroke-width="0.85"/>
<path d="M1590 2262 C1590 2275.7 1596 2281.2 1605 2281.2 C1612.7 2281.2 1617.8 2275.7 1617.8 2262" fill="none" stroke="#7287d2" stroke-width="0.85"/>
<path d="M1587.7 2262 C1587.7 2278.3 1594.6 2284.8 1605 2284.8 C1613.9 2284.8 1619.9 2278.3 1619.9 2262" fill="none" stroke="#7287d2" stroke-width="0.85"/>
<path d="M1585.4 2262 C1585.4 2280.8 1593.2 2288.5 1605 2288.5 C1615.1 2288.5 1621.8 2280.8 1621.8 2262" fill="none" stroke="#7287d2" stroke-width="0.85"/>
<path d="M1583.2 2262 C1583.2 2283.4 1591.9 2292.1 1605 2292.1 C1616.2 2292.1 1623.7 2283.4 1623.7 2262" fill="none" stroke="#7287d2" stroke-width="0.85"/>
<path d="M1581 2262 C1581 2285.9 1590.6 2295.7 1605 2295.7 C1617.3 2295.7 1625.5 2285.9 1625.5 2262" fill="none" stroke="#7287d2" stroke-width="0.85"/>
<path d="M1578.9 2262 C1578.9 2288.5 1589.4 2299.4 1605 2299.4 C1618.4 2299.4 1627.4 2288.5 1627.4 2262" fill="none" stroke="#7287d2" stroke-width="0.85"/>
<path d="M1576.9 2262 C1576.9 2291 1588.1 2303 1605 2303 C1619.5 2303 1629.1 2291 1629.1 2262" fill="none" stroke="#7287d2" stroke-width="0.85"/>
<path d="M1574.8 2262 C1574.8 2293.5 1586.9 2306.6 1605 2306.6 C1620.5 2306.6 1630.9 2293.5 1630.9 2262" fill="none" stroke="#7287d2" stroke-width="0.85"/>
<path d="M1572.8 2262 C1572.8 2296.1 1585.7 2310.3 1605 2310.3 C1621.5 2310.3 1632.6 2296.1 1632.6 2262" fill="none" stroke="#7287d2" stroke-width="0.85"/>
<path d="M1570.9 2262 C1570.9 2298.6 1584.5 2313.9 1605 2313.9 C1622.6 2313.9 1634.3 2298.6 1634.3 2262" fill="none" stroke="#7287d2" stroke-width="0.85"/>
<path d="M1568.9 2262 C1568.9 2301.2 1583.4 2317.5 1605 2317.5 C1623.5 2317.5 1635.9 2301.2 1635.9 2262" fill="none" stroke="#7287d2" stroke-width="0.85"/>
<path d="M1567 2262 C1567 2303.7 1582.2 2321.2 1605 2321.2 C1624.5 2321.2 1637.6 2303.7 1637.6 2262" fill="none" stroke="#7287d2" stroke-width="0.85"/>
<path d="M1565.1 2262 C1565.1 2306.3 1581.1 2324.8 1605 2324.8 C1625.5 2324.8 1639.2 2306.3 1639.2 2262" fill="none" stroke="#7287d2" stroke-width="0.85"/>
<path d="M1563.3 2262 C1563.3 2308.8 1580 2328.5 1605 2328.5 C1626.5 2328.5 1640.8 2308.8 1640.8 2262" fill="none" stroke="#7287d2" stroke-width="0.85"/>
<path d="M1561.4 2262 C1561.4 2311.4 1578.9 2332.1 1605 2332.1 C1627.4 2332.1 1642.4 2311.4 1642.4 2262" fill="none" stroke="#7287d2" stroke-width="0.85"/>
<path d="M1559.6 2262 C1559.6 2313.9 1577.8 2335.7 1605 2335.7 C1628.3 2335.7 1643.9 2313.9 1643.9 2262" fill="none" stroke="#7287d2" stroke-width="0.85"/>
<path d="M1557.8 2262 C1557.8 2316.5 1576.7 2339.4 1605 2339.4 C1629.3 2339.4 1645.5 2316.5 1645.5 2262" fill="none" stroke="#7287d2" stroke-width="0.85"/>
<path d="M1556 2262 C1556 2319 1575.6 2343 1605 2343 C1630.2 2343 1647 2319 1647 2262" fill="none" stroke="#7287d2" stroke-width="0.85"/>
<path d="M1396 2262 Q1436.7 2282.2 1472 2291.8 L1500 2296.6" fill="none" stroke="#7287d2" stroke-width="0.85"/>
<path d="M1400.8 2262 Q1438.8 2280.6 1472 2289.4 L1500 2293.8" fill="none" stroke="#7287d2" stroke-width="0.85"/>
<path d="M1405.5 2262 Q1441 2279 1472 2287 L1500 2291.1" fill="none" stroke="#7287d2" stroke-width="0.85"/>
<path d="M1410.3 2262 Q1443.1 2277.4 1472 2284.6 L1500 2288.4" fill="none" stroke="#7287d2" stroke-width="0.85"/>
<path d="M1415.1 2262 Q1445.3 2275.8 1472 2282.2 L1500 2285.7" fill="none" stroke="#7287d2" stroke-width="0.85"/>
<path d="M1419.8 2262 Q1447.4 2274.3 1472 2279.9 L1500 2283.1" fill="none" stroke="#7287d2" stroke-width="0.85"/>
<path d="M1424.6 2262 Q1449.6 2272.7 1472 2277.6 L1500 2280.5" fill="none" stroke="#7287d2" stroke-width="0.85"/>
<path d="M1429.4 2262 Q1451.7 2271.2 1472 2275.3 L1500 2277.9" fill="none" stroke="#7287d2" stroke-width="0.85"/>
<path d="M1434.2 2262 Q1453.9 2269.7 1472 2273.1 L1500 2275.4" fill="none" stroke="#7287d2" stroke-width="0.85"/>
<path d="M1438.9 2262 Q1456 2268.3 1472 2270.9 L1500 2272.9" fill="none" stroke="#7287d2" stroke-width="0.85"/>
<path d="M1443.7 2262 Q1458.2 2266.8 1472 2268.7 L1500 2270.5" fill="none" stroke="#7287d2" stroke-width="0.85"/>
<path d="M1448.5 2262 Q1460.3 2265.5 1472 2266.7 L1500 2268.2" fill="none" stroke="#7287d2" stroke-width="0.85"/>
<path d="M1453.2 2262 Q1462.5 2264.1 1472 2264.7 L1500 2265.9" fill="none" stroke="#7287d2" stroke-width="0.85"/>
<line x1="1500" y1="2264.5" x2="1560" y2="2264.5" stroke="#7287d2" stroke-width="0.8" />
<line x1="1500" y1="2267.1" x2="1560" y2="2267.1" stroke="#7287d2" stroke-width="0.8" />
<line x1="1500" y1="2269.7" x2="1560" y2="2269.7" stroke="#7287d2" stroke-width="0.8" />
<line x1="1500" y1="2272.3" x2="1560" y2="2272.3" stroke="#7287d2" stroke-width="0.8" />
<line x1="1500" y1="2274.9" x2="1560" y2="2274.9" stroke="#7287d2" stroke-width="0.8" />
<line x1="1500" y1="2277.5" x2="1560" y2="2277.5" stroke="#7287d2" stroke-width="0.8" />
<line x1="1500" y1="2280.1" x2="1560" y2="2280.1" stroke="#7287d2" stroke-width="0.8" />
<line x1="1500" y1="2282.7" x2="1560" y2="2282.7" stroke="#7287d2" stroke-width="0.8" />
<line x1="1500" y1="2285.3" x2="1560" y2="2285.3" stroke="#7287d2" stroke-width="0.8" />
<line x1="1500" y1="2287.9" x2="1558.5" y2="2288.9" stroke="#7287d2" stroke-width="0.8" />
<line x1="1500" y1="2290.5" x2="1557" y2="2291.5" stroke="#7287d2" stroke-width="0.8" />
<line x1="1500" y1="2293.1" x2="1555.5" y2="2294.1" stroke="#7287d2" stroke-width="0.8" />
<line x1="1500" y1="2295.7" x2="1554" y2="2296.7" stroke="#7287d2" stroke-width="0.8" />
<line x1="1500" y1="2298.3" x2="1552.5" y2="2299.3" stroke="#7287d2" stroke-width="0.8" />
<line x1="1500" y1="2300.9" x2="1551" y2="2301.9" stroke="#7287d2" stroke-width="0.8" />
<line x1="1500" y1="2303.5" x2="1549.5" y2="2304.5" stroke="#7287d2" stroke-width="0.8" />
<path d="M1478 2262 L1484 2285 L1500 2316 L1530 2311 L1558 2306 L1570 2285 L1582 2262 Z" fill="url(#hb2)" stroke="none" stroke-width="0" stroke-linejoin="round" />
<ellipse cx="1469.3" cy="2285.5" rx="8" ry="5.5" fill="#fff" stroke="#8a9cda" stroke-width="1" fill-opacity="0.9"/>
<line x1="1489.3" y1="2283" x2="1489.3" y2="2346" stroke="#2a4aa6" stroke-width="6" stroke-dasharray="30 3"/>
<line x1="1489.3" y1="2283" x2="1489.3" y2="2346" stroke="#1e9b78" stroke-width="4.8" stroke-dasharray="3 14" stroke-dashoffset="-10"/>
<line x1="1489.3" y1="2349" x2="1489.3" y2="2352" stroke="#9aa9dd" stroke-width="4" />
<ellipse cx="1489.5" cy="2315.5" rx="15.5" ry="9.5" fill="#2a4aa6" transform="rotate(-10 1489.5 2315.5)" />
<ellipse cx="1489.5" cy="2315.5" rx="2.2" ry="6" fill="#fff" transform="rotate(-10 1489.5 2315.5)" />
<path d="M1478 2311.5 C1466 2311.5 1459.5 2317 1457.8 2334 L1462.3 2335 C1463.5 2324.5 1468.5 2319.5 1478 2319.5 Z" fill="#2a4aa6"/>
<ellipse cx="1518.4" cy="2301.3" rx="4" ry="11" fill="#2a4aa6" transform="rotate(8 1518.4 2301.3)" />
<ellipse cx="1507" cy="2308" rx="4" ry="7" fill="#2a4aa6" transform="rotate(20 1507 2308)" />
<line x1="1547.3" y1="2264" x2="1547.3" y2="2340" stroke="#2a4aa6" stroke-width="4.5" stroke-dasharray="40 3"/>
<line x1="1547.3" y1="2264" x2="1547.3" y2="2340" stroke="#1e9b78" stroke-width="3.6" stroke-dasharray="3 16" stroke-dashoffset="-12"/>
<ellipse cx="1547.3" cy="2289" rx="10.5" ry="16" fill="#2a4aa6" />
<ellipse cx="1547.3" cy="2289" rx="1.5" ry="9" fill="#fff" />
<path d="M1526 2300 L1547 2272 L1547 2308 L1532 2306 Z" fill="#2a4aa6" opacity="0.85"/>
<line x1="1578" y1="2269.5" x2="1578" y2="2285.5" stroke="#2a4aa6" stroke-width="5" />
<line x1="1578" y1="2294" x2="1578" y2="2308" stroke="#6078c6" stroke-width="3.5" />
</g>
<ellipse cx="362" cy="2315.3" rx="6" ry="6" fill="#fff" stroke="#1f9c9c" stroke-width="4.8" />
<ellipse cx="362" cy="2315.3" rx="2.2" ry="2.2" fill="#8fd0d0" />
<ellipse cx="651.6" cy="2289.5" rx="3.5" ry="9" fill="#1f9c9c" />
<ellipse cx="899.3" cy="2315.5" rx="3.8" ry="10" fill="#1f9c9c" />
<ellipse cx="362" cy="2574.3" rx="4.2" ry="5.3" fill="#1f9c9c" />
<ellipse cx="1489" cy="2573.4" rx="3.8" ry="8.5" fill="#1f9c9c" />
<ellipse cx="1489" cy="2812.3" rx="3.8" ry="10.5" fill="#1f9c9c" />
<ellipse cx="725.9" cy="2810.8" rx="3.5" ry="7.5" fill="#1f9c9c" />
<ellipse cx="899.3" cy="2810.8" rx="3" ry="7.5" fill="#1f9c9c" />
<ellipse cx="694.7" cy="2289.5" rx="2.8" ry="7" fill="#fff" stroke="#1f9c9c" stroke-width="3" />
<ellipse cx="362" cy="2651.3" rx="3.8" ry="4.8" fill="#fff" stroke="#1f9c9c" stroke-width="4" />
<line x1="899.5" y1="2322" x2="899.5" y2="2329.5" stroke="#2a4aa6" stroke-width="3.5" />
<path d="M1547 2657 C1543 2666 1551 2676 1546.5 2693 C1551 2680 1544 2668 1549 2657 Z" fill="#1f9c9c" stroke="#1f9c9c" stroke-width="2.6"/>
<line x1="367.5" y1="2649" x2="711" y2="2649" stroke="#a8a8a8" stroke-width="2.6" />
<line x1="1546.6" y1="2605" x2="1546.6" y2="2614.5" stroke="#7d8fd2" stroke-width="2.2" />
<line x1="453" y1="2766" x2="453" y2="2775" stroke="#2a4aa6" stroke-width="2.2" />
<ellipse cx="1038.3" cy="2513.6" rx="2.4" ry="4" fill="#9dabdf" />
<line x1="652.2" y1="2875" x2="652.2" y2="2910" stroke="#3a52b0" stroke-width="2.6" />
<ellipse cx="899.3" cy="2878" rx="1.5" ry="2" fill="#8b9ad3" />
<line x1="361.4" y1="2888" x2="361.4" y2="2897" stroke="#6cc4c4" stroke-width="2.6" />
<line x1="139.3" y1="2876" x2="139.3" y2="2908" stroke="#3aa9a9" stroke-width="2.4" />
<ellipse cx="899.3" cy="2522" rx="2" ry="2.2" fill="#3aa9a9" />
<ellipse cx="899.3" cy="2529" rx="2" ry="2.2" fill="#3aa9a9" />
<ellipse cx="899.3" cy="2536" rx="2" ry="2.2" fill="#3aa9a9" />
<line x1="416" y1="2808" x2="536" y2="2808" stroke="#b9d7ef" stroke-width="5" stroke-dasharray="6 4.4"/>
<line x1="541.5" y1="2806.8" x2="702" y2="2806.8" stroke="#5a9bd6" stroke-width="1.7" stroke-dasharray="5 3.5"/>
<line x1="746.2" y1="2806.8" x2="875" y2="2806.8" stroke="#5a9bd6" stroke-width="1.7" stroke-dasharray="5 3.5"/>
<line x1="927" y1="2806.8" x2="1464.8" y2="2806.8" stroke="#5a9bd6" stroke-width="1.7" stroke-dasharray="5 3.5"/>
<line x1="725.2" y1="2695" x2="725.2" y2="2804" stroke="#5a9bd6" stroke-width="1.7" stroke-dasharray="5 3.5"/>
<line x1="899.5" y1="2646.5" x2="899.5" y2="2793" stroke="#b9d7ef" stroke-width="6" stroke-dasharray="6 6"/>
<line x1="1490.2" y1="2378" x2="1490.2" y2="2534" stroke="#5a9bd6" stroke-width="1.7" stroke-dasharray="5 3.5"/>
<line x1="1490.2" y1="2609" x2="1490.2" y2="2789" stroke="#5a9bd6" stroke-width="1.7" stroke-dasharray="5 3.5"/>
<path d="M725.9 2682.5 L719.3 2694.5 L732.5 2694.5 Z M899.3 2633.4 L893.2 2644.8 L905.4 2644.8 Z" fill="#1f6fc4"/>
<path d="M322.2 2811.9 L331.1 2805.3 L345.3 2801 L354.7 2799.6 L356.6 2791.1 L360.4 2784.5 L363.2 2781.2 L366 2788.3 L369.8 2797.7 L371.7 2800.1 L384.9 2801.5 L396.2 2806.2 L401.4 2811.4 L394.3 2817.5 L380.2 2820.8 L369.8 2822.7 L367.9 2831.7 L365.1 2838.3 L362.7 2840.2 L360.4 2835.5 L356.6 2829.8 L354.7 2824.2 L339.6 2821.3 L328.3 2817.5 Z" fill="#244a9e" stroke="#2a4ba3" stroke-width="0.8" stroke-linejoin="round" />
<ellipse cx="336.8" cy="2811.3" rx="12" ry="1.5" fill="#7f90d2" />
<ellipse cx="387.5" cy="2811.3" rx="12" ry="1.5" fill="#7f90d2" />
<ellipse cx="362.6" cy="2811.5" rx="2" ry="1.5" fill="#8b9ad3" />
<line x1="652.2" y1="2640" x2="652.2" y2="2723" stroke="#2a4aa6" stroke-width="3.4" stroke-dasharray="6 2.5"/>
<line x1="652.2" y1="2640" x2="652.2" y2="2723" stroke="#1e9b78" stroke-width="2.7" stroke-dasharray="3 9" stroke-dashoffset="2"/>
<line x1="694.7" y1="2640" x2="694.7" y2="2692" stroke="#2a4aa6" stroke-width="3.6" stroke-dasharray="6 2.5"/>
<line x1="694.7" y1="2640" x2="694.7" y2="2692" stroke="#1e9b78" stroke-width="2.9" stroke-dasharray="3 9" stroke-dashoffset="2"/>
<line x1="725.9" y1="2622" x2="725.9" y2="2680" stroke="#2a4aa6" stroke-width="3.8" stroke-dasharray="6 2.5"/>
<line x1="725.9" y1="2622" x2="725.9" y2="2680" stroke="#1e9b78" stroke-width="3" stroke-dasharray="3 9" stroke-dashoffset="2"/>
<ellipse cx="652.2" cy="2684" rx="17.5" ry="10" fill="#2a4aa6" transform="rotate(-5 652.2 2684)" />
<ellipse cx="652.2" cy="2684" rx="2" ry="5.5" fill="#fff" transform="rotate(-5 652.2 2684)" />
<ellipse cx="694.7" cy="2665" rx="21" ry="9" fill="#2a4aa6" transform="rotate(-5 694.7 2665)" />
<ellipse cx="694.7" cy="2665" rx="2" ry="5" fill="#fff" transform="rotate(-5 694.7 2665)" />
<ellipse cx="725.9" cy="2651.3" rx="15.5" ry="12" fill="#2a4aa6" transform="rotate(-8 725.9 2651.3)" />
<ellipse cx="725.9" cy="2651.3" rx="2.2" ry="6" fill="#fff" transform="rotate(-8 725.9 2651.3)" />
<ellipse cx="643.2" cy="2684" rx="1.1" ry="3" fill="#8b9ad3" />
<ellipse cx="683.9" cy="2665" rx="1.1" ry="3" fill="#8b9ad3" />
<ellipse cx="718.7" cy="2651.3" rx="1.1" ry="3.5" fill="#8b9ad3" />
<ellipse cx="661.2" cy="2684" rx="1.1" ry="3" fill="#8b9ad3" />
<ellipse cx="705.5" cy="2665" rx="1.1" ry="3" fill="#8b9ad3" />
<ellipse cx="733.1" cy="2651.3" rx="1.1" ry="3.5" fill="#8b9ad3" />
<ellipse cx="611.9" cy="2700.7" rx="2.7" ry="6" fill="#2a4aa6" />
<ellipse cx="762" cy="2635.5" rx="3.3" ry="6" fill="#2a4aa6" />
<ellipse cx="762" cy="2635.5" rx="0.9" ry="2.6" fill="#9dabdf" />
<ellipse cx="790.8" cy="2622.5" rx="2" ry="3.5" fill="#2a4aa6" />
<ellipse cx="662.5" cy="2665.5" rx="1.8" ry="2.4" fill="#fff" stroke="#6b80cc" stroke-width="1.2" />
<line x1="899.6" y1="2520" x2="899.6" y2="2625" stroke="#2a4aa6" stroke-width="4.5" stroke-dasharray="7 2.5"/>
<line x1="899.6" y1="2520" x2="899.6" y2="2625" stroke="#1e9b78" stroke-width="3.6" stroke-dasharray="3.5 7" stroke-dashoffset="3"/>
<line x1="917" y1="2542" x2="917" y2="2591" stroke="#2a4aa6" stroke-width="4" stroke-dasharray="7 2.5"/>
<line x1="917" y1="2542" x2="917" y2="2591" stroke="#1e9b78" stroke-width="3.2" stroke-dasharray="3.5 7" stroke-dashoffset="1"/>
<g transform="rotate(-21 908 2569)">
<ellipse cx="908" cy="2569" rx="34" ry="11.5" fill="#2a4aa6" />
<ellipse cx="899" cy="2569" rx="2.3" ry="6.5" fill="#fff" transform="rotate(21 899 2569)" />
<ellipse cx="917.5" cy="2569" rx="1.7" ry="5" fill="#fff" transform="rotate(21 917.5 2569)" />
<ellipse cx="886" cy="2569" rx="1.2" ry="4" fill="#8b9ad3" transform="rotate(21 886 2569)" />
<ellipse cx="894" cy="2569" rx="1.2" ry="4" fill="#8b9ad3" transform="rotate(21 894 2569)" />
<ellipse cx="928" cy="2569" rx="1.2" ry="4" fill="#8b9ad3" transform="rotate(21 928 2569)" />
<ellipse cx="934" cy="2569" rx="1.2" ry="4" fill="#8b9ad3" transform="rotate(21 934 2569)" />
</g>
<ellipse cx="867.2" cy="2588.4" rx="5.5" ry="9.5" fill="#2a4aa6" transform="rotate(8 867.2 2588.4)" />
<ellipse cx="951.3" cy="2552.8" rx="4" ry="8" fill="#2a4aa6" transform="rotate(5 951.3 2552.8)" />
<text transform="translate(331.2 2872) scale(1.015 1)" font-size="42.7" fill="#1e1e1e" >HN</text>
<text transform="translate(702.5 2872) scale(1.034 1)" font-size="41.3" fill="#1e1e1e" >H5&#8242;</text>
<text transform="translate(871.6 2872) scale(1.034 1)" font-size="41.3" fill="#1e1e1e" >H5</text>
<text transform="translate(1504.3 2796.2) scale(0.894 1)" font-size="45.3" fill="#1e1e1e" >CH</text>
<text transform="translate(1561.7 2810.8) scale(0.2527 0.2186)" font-size="100" fill="#1e1e1e" >2</text>
<line x1="139" y1="2265.5" x2="1394" y2="2265.5" stroke="#e9e9e9" stroke-width="2.6" />
<line x1="137" y1="2263" x2="1629" y2="2263" stroke="#858585" stroke-width="2.7" />
<line x1="138" y1="2261.8" x2="138" y2="2911" stroke="#606060" stroke-width="2.1" />
<line x1="137" y1="2910" x2="1629" y2="2910" stroke="#606060" stroke-width="2.3" />
<line x1="1621.5" y1="2261.8" x2="1621.5" y2="2911" stroke="#606060" stroke-width="2.3" />
<line x1="1621.5" y1="2262.8" x2="1629.5" y2="2262.8" stroke="#606060" stroke-width="2" />
<text transform="translate(1645.9 2275.2) scale(1.000 1)" font-size="38.1" fill="#1a1a1a" stroke="#fff" stroke-width="0.65" >4</text>
<line x1="1621.5" y1="2281.3" x2="1626.5" y2="2281.3" stroke="#777" stroke-width="1.6" />
<line x1="1621.5" y1="2299.8" x2="1626.5" y2="2299.8" stroke="#777" stroke-width="1.6" />
<line x1="1621.5" y1="2318.3" x2="1626.5" y2="2318.3" stroke="#777" stroke-width="1.6" />
<line x1="1621.5" y1="2336.8" x2="1626.5" y2="2336.8" stroke="#777" stroke-width="1.6" />
<line x1="1621.5" y1="2355.3" x2="1629.5" y2="2355.3" stroke="#606060" stroke-width="2" />
<text transform="translate(1645.7 2367.7) scale(1.000 1)" font-size="38.1" fill="#1a1a1a" stroke="#fff" stroke-width="0.65" >5</text>
<line x1="1621.5" y1="2373.8" x2="1626.5" y2="2373.8" stroke="#777" stroke-width="1.6" />
<line x1="1621.5" y1="2392.2" x2="1626.5" y2="2392.2" stroke="#777" stroke-width="1.6" />
<line x1="1621.5" y1="2410.7" x2="1626.5" y2="2410.7" stroke="#777" stroke-width="1.6" />
<line x1="1621.5" y1="2429.2" x2="1626.5" y2="2429.2" stroke="#777" stroke-width="1.6" />
<line x1="1621.5" y1="2447.7" x2="1629.5" y2="2447.7" stroke="#606060" stroke-width="2" />
<text transform="translate(1645.5 2460.1) scale(1.000 1)" font-size="38.1" fill="#1a1a1a" stroke="#fff" stroke-width="0.65" >6</text>
<line x1="1621.5" y1="2466.2" x2="1626.5" y2="2466.2" stroke="#777" stroke-width="1.6" />
<line x1="1621.5" y1="2484.7" x2="1626.5" y2="2484.7" stroke="#777" stroke-width="1.6" />
<line x1="1621.5" y1="2503.2" x2="1626.5" y2="2503.2" stroke="#777" stroke-width="1.6" />
<line x1="1621.5" y1="2521.7" x2="1626.5" y2="2521.7" stroke="#777" stroke-width="1.6" />
<line x1="1621.5" y1="2540.2" x2="1629.5" y2="2540.2" stroke="#606060" stroke-width="2" />
<text transform="translate(1645.7 2552.6) scale(1.000 1)" font-size="38.1" fill="#1a1a1a" stroke="#fff" stroke-width="0.65" >7</text>
<line x1="1621.5" y1="2558.7" x2="1626.5" y2="2558.7" stroke="#777" stroke-width="1.6" />
<line x1="1621.5" y1="2577.2" x2="1626.5" y2="2577.2" stroke="#777" stroke-width="1.6" />
<line x1="1621.5" y1="2595.7" x2="1626.5" y2="2595.7" stroke="#777" stroke-width="1.6" />
<line x1="1621.5" y1="2614.1" x2="1626.5" y2="2614.1" stroke="#777" stroke-width="1.6" />
<line x1="1621.5" y1="2632.6" x2="1629.5" y2="2632.6" stroke="#606060" stroke-width="2" />
<text transform="translate(1645.6 2645) scale(1.000 1)" font-size="38.1" fill="#1a1a1a" stroke="#fff" stroke-width="0.65" >8</text>
<line x1="1621.5" y1="2651.1" x2="1626.5" y2="2651.1" stroke="#777" stroke-width="1.6" />
<line x1="1621.5" y1="2669.6" x2="1626.5" y2="2669.6" stroke="#777" stroke-width="1.6" />
<line x1="1621.5" y1="2688.1" x2="1626.5" y2="2688.1" stroke="#777" stroke-width="1.6" />
<line x1="1621.5" y1="2706.6" x2="1626.5" y2="2706.6" stroke="#777" stroke-width="1.6" />
<line x1="1621.5" y1="2725.1" x2="1629.5" y2="2725.1" stroke="#606060" stroke-width="2" />
<text transform="translate(1645.7 2737.5) scale(1.000 1)" font-size="38.1" fill="#1a1a1a" stroke="#fff" stroke-width="0.65" >9</text>
<line x1="1621.5" y1="2743.6" x2="1626.5" y2="2743.6" stroke="#777" stroke-width="1.6" />
<line x1="1621.5" y1="2762.1" x2="1626.5" y2="2762.1" stroke="#777" stroke-width="1.6" />
<line x1="1621.5" y1="2780.6" x2="1626.5" y2="2780.6" stroke="#777" stroke-width="1.6" />
<line x1="1621.5" y1="2799.1" x2="1626.5" y2="2799.1" stroke="#777" stroke-width="1.6" />
<line x1="1621.5" y1="2817.6" x2="1629.5" y2="2817.6" stroke="#606060" stroke-width="2" />
<text transform="translate(1634.4 2830) scale(1.000 1)" font-size="38.1" fill="#1a1a1a" stroke="#fff" stroke-width="0.65" >10</text>
<line x1="1621.5" y1="2836.1" x2="1626.5" y2="2836.1" stroke="#777" stroke-width="1.6" />
<line x1="1621.5" y1="2854.5" x2="1626.5" y2="2854.5" stroke="#777" stroke-width="1.6" />
<line x1="1621.5" y1="2873" x2="1626.5" y2="2873" stroke="#777" stroke-width="1.6" />
<line x1="1621.5" y1="2891.5" x2="1626.5" y2="2891.5" stroke="#777" stroke-width="1.6" />
<line x1="1621.5" y1="2910" x2="1629.5" y2="2910" stroke="#606060" stroke-width="2" />
<text transform="translate(1636 2922.4) scale(1.000 1)" font-size="38.1" fill="#1a1a1a" stroke="#fff" stroke-width="0.65" >11</text>
<line x1="152" y1="2910" x2="152" y2="2919.5" stroke="#606060" stroke-width="2" />
<text transform="translate(132 2957.8) scale(1.000 1)" font-size="38.7" fill="#1a1a1a" stroke="#fff" stroke-width="0.65" >11</text>
<line x1="194" y1="2910" x2="194" y2="2916" stroke="#777" stroke-width="1.6" />
<line x1="236.1" y1="2910" x2="236.1" y2="2916" stroke="#777" stroke-width="1.6" />
<line x1="278.1" y1="2910" x2="278.1" y2="2916" stroke="#777" stroke-width="1.6" />
<line x1="320.2" y1="2910" x2="320.2" y2="2916" stroke="#777" stroke-width="1.6" />
<line x1="362.2" y1="2910" x2="362.2" y2="2919.5" stroke="#606060" stroke-width="2" />
<text transform="translate(340.6 2957.8) scale(1.000 1)" font-size="38.7" fill="#1a1a1a" stroke="#fff" stroke-width="0.65" >10</text>
<line x1="404.3" y1="2910" x2="404.3" y2="2916" stroke="#777" stroke-width="1.6" />
<line x1="446.4" y1="2910" x2="446.4" y2="2916" stroke="#777" stroke-width="1.6" />
<line x1="488.4" y1="2910" x2="488.4" y2="2916" stroke="#777" stroke-width="1.6" />
<line x1="530.5" y1="2910" x2="530.5" y2="2916" stroke="#777" stroke-width="1.6" />
<line x1="572.5" y1="2910" x2="572.5" y2="2919.5" stroke="#606060" stroke-width="2" />
<text transform="translate(562.4 2957.8) scale(1.000 1)" font-size="38.7" fill="#1a1a1a" stroke="#fff" stroke-width="0.65" >9</text>
<line x1="614.5" y1="2910" x2="614.5" y2="2916" stroke="#777" stroke-width="1.6" />
<line x1="656.6" y1="2910" x2="656.6" y2="2916" stroke="#777" stroke-width="1.6" />
<line x1="698.6" y1="2910" x2="698.6" y2="2916" stroke="#777" stroke-width="1.6" />
<line x1="740.7" y1="2910" x2="740.7" y2="2916" stroke="#777" stroke-width="1.6" />
<line x1="782.8" y1="2910" x2="782.8" y2="2919.5" stroke="#606060" stroke-width="2" />
<text transform="translate(772.5 2957.8) scale(1.000 1)" font-size="38.7" fill="#1a1a1a" stroke="#fff" stroke-width="0.65" >8</text>
<line x1="824.8" y1="2910" x2="824.8" y2="2916" stroke="#777" stroke-width="1.6" />
<line x1="866.9" y1="2910" x2="866.9" y2="2916" stroke="#777" stroke-width="1.6" />
<line x1="908.9" y1="2910" x2="908.9" y2="2916" stroke="#777" stroke-width="1.6" />
<line x1="951" y1="2910" x2="951" y2="2916" stroke="#777" stroke-width="1.6" />
<line x1="993" y1="2910" x2="993" y2="2919.5" stroke="#606060" stroke-width="2" />
<text transform="translate(982.9 2957.8) scale(1.000 1)" font-size="38.7" fill="#1a1a1a" stroke="#fff" stroke-width="0.65" >7</text>
<line x1="1035.1" y1="2910" x2="1035.1" y2="2916" stroke="#777" stroke-width="1.6" />
<line x1="1077.1" y1="2910" x2="1077.1" y2="2916" stroke="#777" stroke-width="1.6" />
<line x1="1119.2" y1="2910" x2="1119.2" y2="2916" stroke="#777" stroke-width="1.6" />
<line x1="1161.2" y1="2910" x2="1161.2" y2="2916" stroke="#777" stroke-width="1.6" />
<line x1="1203.2" y1="2910" x2="1203.2" y2="2919.5" stroke="#606060" stroke-width="2" />
<text transform="translate(1192.9 2957.8) scale(1.000 1)" font-size="38.7" fill="#1a1a1a" stroke="#fff" stroke-width="0.65" >6</text>
<line x1="1245.3" y1="2910" x2="1245.3" y2="2916" stroke="#777" stroke-width="1.6" />
<line x1="1287.4" y1="2910" x2="1287.4" y2="2916" stroke="#777" stroke-width="1.6" />
<line x1="1329.4" y1="2910" x2="1329.4" y2="2916" stroke="#777" stroke-width="1.6" />
<line x1="1371.5" y1="2910" x2="1371.5" y2="2916" stroke="#777" stroke-width="1.6" />
<line x1="1413.5" y1="2910" x2="1413.5" y2="2919.5" stroke="#606060" stroke-width="2" />
<text transform="translate(1403.4 2957.8) scale(1.000 1)" font-size="38.7" fill="#1a1a1a" stroke="#fff" stroke-width="0.65" >5</text>
<line x1="1455.5" y1="2910" x2="1455.5" y2="2916" stroke="#777" stroke-width="1.6" />
<line x1="1497.6" y1="2910" x2="1497.6" y2="2916" stroke="#777" stroke-width="1.6" />
<line x1="1539.7" y1="2910" x2="1539.7" y2="2916" stroke="#777" stroke-width="1.6" />
<line x1="1581.7" y1="2910" x2="1581.7" y2="2916" stroke="#777" stroke-width="1.6" />
<g transform="translate(1742.8 2685.5) rotate(-90)">
<text transform="translate(-4.6 0) scale(0.958 1)" font-size="59.6" fill="#161616" stroke="#fff" stroke-width="0.7" >F1 [ppm]</text>
</g>
<g transform="translate(111.7 1169.3)">
<path d="M1146.2 1141.4 L1202.6 1170.8 L1204.1 1236 L1149.2 1267.8 L1093.5 1239 L1091.6 1173.8 Z" fill="none" stroke="#222" stroke-width="2.2" stroke-linejoin="round" />
<line x1="1145.5" y1="1153.5" x2="1193.1" y2="1178.2" stroke="#222" stroke-width="2.2" />
<line x1="1194.3" y1="1229" x2="1148" y2="1255.8" stroke="#222" stroke-width="2.2" />
<line x1="1104.3" y1="1233.7" x2="1102.7" y2="1178.5" stroke="#222" stroke-width="2.2" />
<path d="M1093.5 1239 L1044.9 1280 L1045 1326.7" fill="none" stroke="#222" stroke-width="2.2" stroke-linejoin="round" />
<text transform="translate(1001.3 1360) scale(1.087 1)" font-size="37.6" fill="#111" >HN</text>
<line x1="1060.7" y1="1358" x2="1085" y2="1372.2" stroke="#222" stroke-width="2.2" />
<line x1="1081.3" y1="1367.6" x2="1110.7" y2="1346.4" stroke="#222" stroke-width="2.2" />
<line x1="1089.5" y1="1378.2" x2="1115.9" y2="1358.5" stroke="#222" stroke-width="2.2" />
<text transform="translate(1115.1 1351.8) scale(1.031 1)" font-size="38.2" fill="#111" >O</text>
<line x1="1085" y1="1372.2" x2="1085.6" y2="1425.2" stroke="#222" stroke-width="2.2" />
<path d="M1031 1519.2 L1031 1457 L1085.6 1425.2 L1142.6 1455.5 L1143.2 1519.2" fill="none" stroke="#222" stroke-width="2.2" stroke-linejoin="round" />
<line x1="1082.9" y1="1436.8" x2="1134.6" y2="1464.2" stroke="#222" stroke-width="2.2" />
<line x1="1044" y1="1515.2" x2="1044" y2="1461" stroke="#222" stroke-width="2.2" />
<line x1="1143.2" y1="1519.2" x2="1122.9" y2="1531.3" stroke="#222" stroke-width="2.2" />
<line x1="1122.9" y1="1516.2" x2="1133.5" y2="1510" stroke="#222" stroke-width="2.2" />
<line x1="1031" y1="1519.2" x2="1069.8" y2="1542" stroke="#222" stroke-width="2.2" />
<line x1="1142.6" y1="1455.5" x2="1167.4" y2="1439.8" stroke="#222" stroke-width="2.2" />
<text transform="translate(1171.2 1439.8) scale(1.010 1)" font-size="38.2" fill="#111" >OH</text>
<text transform="translate(1072.7 1564.7) scale(1.116 1)" font-size="36.3" fill="#111" >N</text>
<text transform="translate(1101.6 1536.2) scale(0.2614 0.2588)" font-size="100" fill="#111" font-weight="bold" >+</text>
<line x1="1087.4" y1="1572.3" x2="1087.4" y2="1602.6" stroke="#222" stroke-width="2.8" />
<text transform="translate(1043.4 1176.9) scale(1.047 1)" font-size="25.1" fill="#222" >H5</text>
<text transform="translate(1133 1294.2) scale(1.012 1)" font-size="25.1" fill="#222" >H3</text>
<text transform="translate(990.3 1453) scale(1.100 1)" font-size="25.1" fill="#222" >H5&#8242;</text>
<text transform="translate(990.4 1535.9) scale(1.031 1)" font-size="25.1" fill="#222" >H6&#8242;</text>
<text transform="translate(1152.5 1529.8) scale(1.100 1)" font-size="25.1" fill="#222" >H2&#8242;</text>
</g>
</g>
</svg></body></html>
